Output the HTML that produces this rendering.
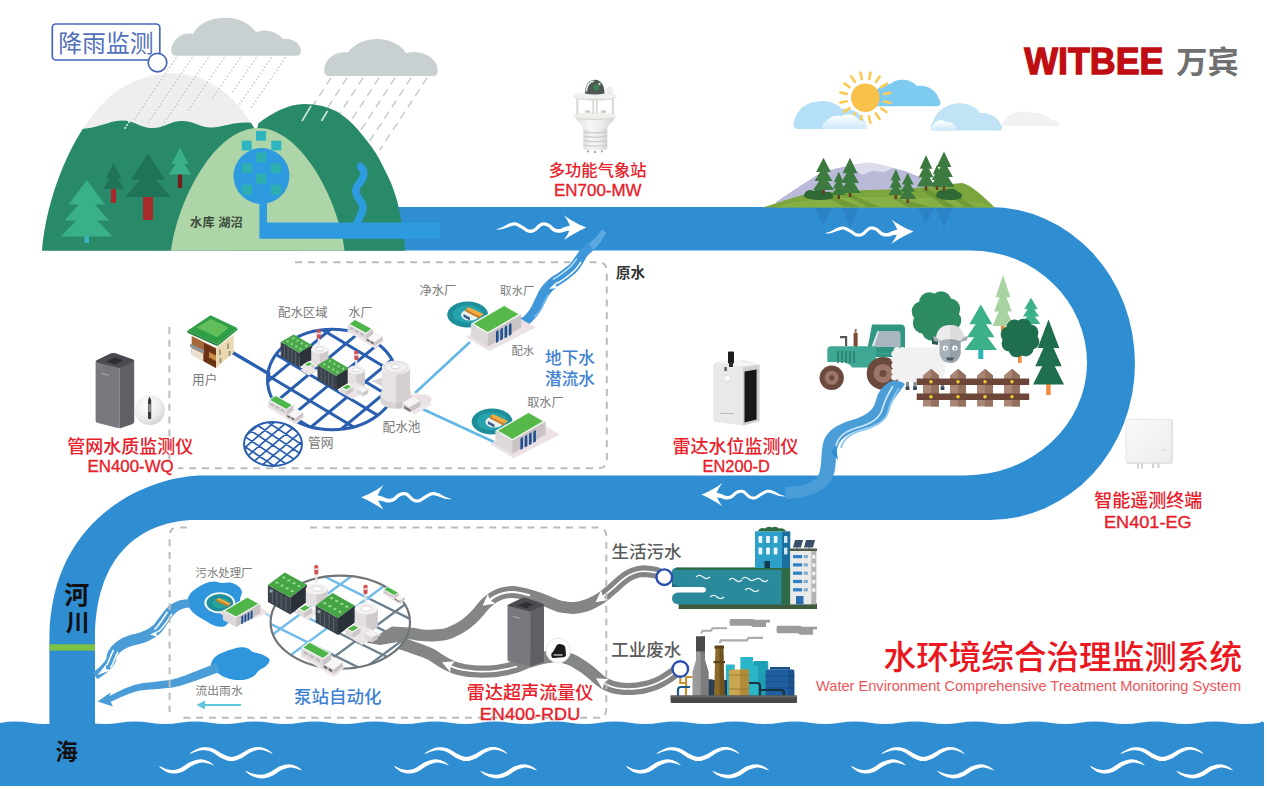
<!DOCTYPE html>
<html><head><meta charset="utf-8"><title>Water Environment Comprehensive Treatment Monitoring System</title>
<style>
html,body{margin:0;padding:0;background:#fff;}
body{width:1267px;height:789px;overflow:hidden;font-family:"Liberation Sans","Noto Sans CJK SC",sans-serif;}
svg{display:block}
text{font-family:"Liberation Sans","Noto Sans CJK SC",sans-serif;}
</style></head><body>
<svg width="1267" height="789" viewBox="0 0 1267 789">
<!-- parts_bg -->
<rect width="1267" height="789" fill="#fff"/>
<path d="M340 207H990A145 156.5 0 0 1 990 520H193C169.5 520.6 95 530.2 95 640V726H49.4V640C49.4 515 150.8 475.5 203 475.5H965A122 113 0 0 0 1087 363A116 112.5 0 0 0 971 250.5H340Z" fill="#2f8dd2"/>
<path d="M0 723Q15 720.2 30 722.7Q45 725.2 60 722.7Q75 720.2 90 722.7Q105 725.2 120 722.7Q135 720.2 150 722.7Q165 725.2 180 722.7Q195 720.2 210 722.7Q225 725.2 240 722.7Q255 720.2 270 722.7Q285 725.2 300 722.7Q315 720.2 330 722.7Q345 725.2 360 722.7Q375 720.2 390 722.7Q405 725.2 420 722.7Q435 720.2 450 722.7Q465 725.2 480 722.7Q495 720.2 510 722.7Q525 725.2 540 722.7Q555 720.2 570 722.7Q585 725.2 600 722.7Q615 720.2 630 722.7Q645 725.2 660 722.7Q675 720.2 690 722.7Q705 725.2 720 722.7Q735 720.2 750 722.7Q765 725.2 780 722.7Q795 720.2 810 722.7Q825 725.2 840 722.7Q855 720.2 870 722.7Q885 725.2 900 722.7Q915 720.2 930 722.7Q945 725.2 960 722.7Q975 720.2 990 722.7Q1005 725.2 1020 722.7Q1035 720.2 1050 722.7Q1065 725.2 1080 722.7Q1095 720.2 1110 722.7Q1125 725.2 1140 722.7Q1155 720.2 1170 722.7Q1185 725.2 1200 722.7Q1215 720.2 1230 722.7Q1245 725.2 1260 722.7Q1262 720.2 1264 722.7V786H0Z" fill="#2f8dd2"/>
<rect x="49.4" y="644.3" width="45.6" height="6.3" fill="#7dc242"/>
<g fill="#fff" transform="translate(0 0)"><path d="M189.0 754.0L189.9 753.8L190.8 753.6L191.7 753.2L192.5 752.9L193.3 752.6L194.2 752.3L195.0 751.9L195.8 751.7L196.6 751.4L197.3 751.2L198.1 751.0L198.9 750.8L199.6 750.6L200.3 750.5L201.0 750.4L201.7 750.3L202.4 750.2L203.1 750.2L203.8 750.1L204.5 750.2L205.2 750.3L206.0 750.4L206.7 750.5L207.5 750.7L208.3 750.8L209.1 751.1L209.9 751.3L210.7 751.6L211.5 751.9L212.3 752.3L213.0 752.7L213.8 753.1L214.6 753.7L215.5 754.2L216.4 754.9L217.3 755.5L218.2 756.1L219.1 756.8L220.1 757.4L221.1 757.9L222.0 758.3L222.9 758.8L223.8 759.2L224.8 759.6L225.8 760.0L226.7 760.3L227.7 760.7L228.8 760.9L229.9 761.1L230.9 761.1L232.0 761.1L233.1 761.0L234.1 760.9L235.1 760.6L236.1 760.3L237.0 760.0L238.0 759.6L238.9 759.3L239.9 758.8L240.9 758.4L241.9 757.9L243.0 757.2L244.0 756.6L245.1 755.9L246.1 755.2L247.1 754.5L248.1 753.8L249.0 753.2L249.9 752.7L250.7 752.2L251.6 751.9L252.4 751.5L253.2 751.2L254.0 750.9L254.8 750.6L255.6 750.4L256.3 750.2L257.1 750.1L257.8 749.9L258.5 749.8L259.3 749.8L260.0 749.8L260.7 749.8L261.4 749.9L262.1 750.0L262.8 750.2L263.5 750.3L264.2 750.5L264.9 750.7L265.6 750.9L266.3 751.2L267.0 751.4L267.7 751.7L268.5 752.1L269.2 752.4L269.9 752.8L270.7 753.1L271.4 753.5L272.2 753.8L273.0 754.0L273.0 754.0L272.4 753.4L271.8 752.8L271.2 752.3L270.5 751.8L269.9 751.3L269.2 750.8L268.5 750.3L267.8 749.9L267.1 749.5L266.4 749.1L265.6 748.7L264.9 748.4L264.2 748.1L263.4 747.9L262.6 747.6L261.8 747.4L261.0 747.2L260.2 747.1L259.3 747.0L258.5 747.0L257.6 747.0L256.7 747.0L255.8 747.1L254.9 747.3L254.0 747.4L253.1 747.7L252.1 747.9L251.2 748.2L250.2 748.6L249.3 749.0L248.2 749.4L247.1 750.0L246.1 750.6L245.0 751.2L243.9 751.9L242.9 752.5L241.9 753.1L240.9 753.7L240.0 754.2L239.1 754.6L238.2 755.0L237.3 755.4L236.5 755.7L235.6 756.0L234.8 756.3L234.0 756.5L233.3 756.7L232.5 756.8L231.8 756.8L231.1 756.9L230.3 756.8L229.6 756.7L228.9 756.5L228.1 756.3L227.2 756.0L226.4 755.7L225.6 755.3L224.7 754.9L223.8 754.5L222.9 754.1L222.1 753.7L221.2 753.3L220.4 752.7L219.5 752.2L218.6 751.6L217.6 751.0L216.7 750.4L215.7 749.9L214.7 749.3L213.7 748.9L212.8 748.6L211.8 748.3L210.9 748.0L209.9 747.8L209.0 747.6L208.1 747.4L207.2 747.3L206.3 747.3L205.4 747.2L204.5 747.2L203.7 747.3L202.8 747.3L202.0 747.5L201.2 747.6L200.4 747.8L199.7 748.1L198.9 748.3L198.2 748.6L197.4 748.9L196.7 749.2L195.9 749.6L195.1 750.0L194.3 750.4L193.5 750.9L192.7 751.3L191.9 751.8L191.2 752.3L190.4 752.8L189.7 753.4L189.0 754.0Z"/><path d="M158.8 766.0L159.3 766.7L159.9 767.3L160.6 767.9L161.2 768.5L161.9 769.1L162.6 769.6L163.3 770.1L164.0 770.6L164.7 771.1L165.5 771.5L166.3 771.9L167.1 772.2L168.0 772.5L168.8 772.7L169.7 773.0L170.5 773.2L171.4 773.3L172.3 773.4L173.2 773.5L174.1 773.5L175.0 773.5L175.8 773.4L176.7 773.3L177.6 773.2L178.5 773.0L179.3 772.8L180.2 772.5L181.1 772.2L182.0 771.9L182.9 771.5L183.9 771.0L184.8 770.5L185.8 769.9L186.7 769.3L187.6 768.6L188.5 768.0L189.4 767.4L190.3 766.8L191.1 766.3L191.9 765.9L192.8 765.5L193.7 765.1L194.6 764.6L195.5 764.3L196.4 763.9L197.4 763.6L198.2 763.3L199.1 763.0L199.9 762.8L200.7 762.7L201.4 762.6L202.1 762.6L202.8 762.6L203.5 762.6L204.2 762.7L204.9 762.8L205.6 762.9L206.3 763.1L207.0 763.2L207.6 763.4L208.3 763.5L208.9 763.7L209.5 763.9L210.0 764.1L210.6 764.3L211.2 764.6L211.8 764.8L212.5 765.0L213.1 765.2L213.8 765.3L213.8 765.3L213.4 764.7L212.9 764.3L212.4 763.9L211.9 763.5L211.4 763.1L210.8 762.7L210.3 762.3L209.7 761.9L209.0 761.6L208.4 761.2L207.7 761.0L207.0 760.7L206.3 760.4L205.6 760.1L204.8 759.9L204.0 759.7L203.1 759.5L202.2 759.4L201.3 759.3L200.3 759.3L199.4 759.4L198.3 759.5L197.3 759.7L196.3 759.9L195.2 760.2L194.2 760.5L193.2 760.9L192.1 761.3L191.1 761.7L190.1 762.1L189.1 762.6L188.0 763.2L187.1 763.8L186.1 764.5L185.2 765.1L184.3 765.7L183.4 766.3L182.6 766.8L181.8 767.3L181.1 767.7L180.3 768.0L179.6 768.4L178.9 768.7L178.1 768.9L177.4 769.2L176.7 769.4L176.0 769.5L175.3 769.7L174.6 769.8L173.9 769.9L173.2 769.9L172.5 769.9L171.7 769.9L171.0 769.9L170.2 769.8L169.5 769.7L168.7 769.6L168.0 769.5L167.2 769.3L166.5 769.1L165.8 768.9L165.0 768.6L164.3 768.3L163.6 768.0L162.8 767.6L162.1 767.2L161.3 766.8L160.5 766.5L159.7 766.2L158.8 766.0Z"/><path d="M245.3 771.0L245.9 771.7L246.6 772.3L247.2 772.8L247.9 773.4L248.6 773.9L249.3 774.4L250.1 774.9L250.9 775.4L251.7 775.8L252.6 776.2L253.5 776.6L254.4 776.9L255.4 777.2L256.4 777.5L257.4 777.8L258.4 778.0L259.4 778.2L260.4 778.3L261.5 778.4L262.5 778.4L263.5 778.3L264.5 778.2L265.4 778.1L266.4 777.9L267.3 777.6L268.3 777.4L269.2 777.0L270.1 776.7L271.0 776.3L271.9 775.9L272.9 775.4L273.9 774.9L274.8 774.3L275.8 773.7L276.7 773.0L277.6 772.4L278.4 771.8L279.3 771.3L280.1 770.8L280.9 770.4L281.7 770.0L282.5 769.6L283.4 769.3L284.2 768.9L285.1 768.7L285.9 768.4L286.7 768.2L287.5 768.0L288.3 767.8L289.0 767.7L289.7 767.6L290.4 767.6L291.0 767.6L291.7 767.6L292.3 767.7L293.0 767.8L293.6 767.9L294.3 768.1L295.0 768.2L295.6 768.4L296.3 768.5L296.9 768.7L297.5 768.9L298.1 769.2L298.7 769.4L299.4 769.6L300.0 769.9L300.7 770.1L301.4 770.3L302.1 770.4L302.1 770.4L301.6 769.8L301.1 769.4L300.6 768.9L300.0 768.5L299.5 768.1L298.9 767.7L298.3 767.3L297.7 766.9L297.0 766.5L296.4 766.2L295.7 765.9L295.1 765.7L294.4 765.4L293.7 765.1L292.9 764.9L292.2 764.7L291.4 764.5L290.5 764.4L289.7 764.3L288.8 764.3L287.9 764.4L286.9 764.5L286.0 764.6L285.0 764.8L284.0 765.0L283.1 765.3L282.1 765.5L281.1 765.9L280.1 766.2L279.1 766.6L278.1 767.1L277.1 767.7L276.1 768.2L275.2 768.9L274.3 769.5L273.4 770.1L272.5 770.7L271.7 771.2L270.9 771.7L270.1 772.1L269.3 772.4L268.5 772.8L267.7 773.1L266.9 773.5L266.1 773.7L265.4 774.0L264.6 774.2L263.8 774.4L263.1 774.5L262.3 774.6L261.5 774.7L260.6 774.7L259.8 774.7L258.8 774.6L257.9 774.5L257.0 774.4L256.1 774.3L255.2 774.1L254.3 774.0L253.4 773.8L252.6 773.6L251.8 773.3L251.0 773.0L250.3 772.7L249.5 772.4L248.7 772.1L247.9 771.7L247.1 771.4L246.2 771.1L245.3 771.0Z"/></g>
<g fill="#fff" transform="translate(235 0)"><path d="M189.0 754.0L189.9 753.8L190.8 753.6L191.7 753.2L192.5 752.9L193.3 752.6L194.2 752.3L195.0 751.9L195.8 751.7L196.6 751.4L197.3 751.2L198.1 751.0L198.9 750.8L199.6 750.6L200.3 750.5L201.0 750.4L201.7 750.3L202.4 750.2L203.1 750.2L203.8 750.1L204.5 750.2L205.2 750.3L206.0 750.4L206.7 750.5L207.5 750.7L208.3 750.8L209.1 751.1L209.9 751.3L210.7 751.6L211.5 751.9L212.3 752.3L213.0 752.7L213.8 753.1L214.6 753.7L215.5 754.2L216.4 754.9L217.3 755.5L218.2 756.1L219.1 756.8L220.1 757.4L221.1 757.9L222.0 758.3L222.9 758.8L223.8 759.2L224.8 759.6L225.8 760.0L226.7 760.3L227.7 760.7L228.8 760.9L229.9 761.1L230.9 761.1L232.0 761.1L233.1 761.0L234.1 760.9L235.1 760.6L236.1 760.3L237.0 760.0L238.0 759.6L238.9 759.3L239.9 758.8L240.9 758.4L241.9 757.9L243.0 757.2L244.0 756.6L245.1 755.9L246.1 755.2L247.1 754.5L248.1 753.8L249.0 753.2L249.9 752.7L250.7 752.2L251.6 751.9L252.4 751.5L253.2 751.2L254.0 750.9L254.8 750.6L255.6 750.4L256.3 750.2L257.1 750.1L257.8 749.9L258.5 749.8L259.3 749.8L260.0 749.8L260.7 749.8L261.4 749.9L262.1 750.0L262.8 750.2L263.5 750.3L264.2 750.5L264.9 750.7L265.6 750.9L266.3 751.2L267.0 751.4L267.7 751.7L268.5 752.1L269.2 752.4L269.9 752.8L270.7 753.1L271.4 753.5L272.2 753.8L273.0 754.0L273.0 754.0L272.4 753.4L271.8 752.8L271.2 752.3L270.5 751.8L269.9 751.3L269.2 750.8L268.5 750.3L267.8 749.9L267.1 749.5L266.4 749.1L265.6 748.7L264.9 748.4L264.2 748.1L263.4 747.9L262.6 747.6L261.8 747.4L261.0 747.2L260.2 747.1L259.3 747.0L258.5 747.0L257.6 747.0L256.7 747.0L255.8 747.1L254.9 747.3L254.0 747.4L253.1 747.7L252.1 747.9L251.2 748.2L250.2 748.6L249.3 749.0L248.2 749.4L247.1 750.0L246.1 750.6L245.0 751.2L243.9 751.9L242.9 752.5L241.9 753.1L240.9 753.7L240.0 754.2L239.1 754.6L238.2 755.0L237.3 755.4L236.5 755.7L235.6 756.0L234.8 756.3L234.0 756.5L233.3 756.7L232.5 756.8L231.8 756.8L231.1 756.9L230.3 756.8L229.6 756.7L228.9 756.5L228.1 756.3L227.2 756.0L226.4 755.7L225.6 755.3L224.7 754.9L223.8 754.5L222.9 754.1L222.1 753.7L221.2 753.3L220.4 752.7L219.5 752.2L218.6 751.6L217.6 751.0L216.7 750.4L215.7 749.9L214.7 749.3L213.7 748.9L212.8 748.6L211.8 748.3L210.9 748.0L209.9 747.8L209.0 747.6L208.1 747.4L207.2 747.3L206.3 747.3L205.4 747.2L204.5 747.2L203.7 747.3L202.8 747.3L202.0 747.5L201.2 747.6L200.4 747.8L199.7 748.1L198.9 748.3L198.2 748.6L197.4 748.9L196.7 749.2L195.9 749.6L195.1 750.0L194.3 750.4L193.5 750.9L192.7 751.3L191.9 751.8L191.2 752.3L190.4 752.8L189.7 753.4L189.0 754.0Z"/><path d="M158.8 766.0L159.3 766.7L159.9 767.3L160.6 767.9L161.2 768.5L161.9 769.1L162.6 769.6L163.3 770.1L164.0 770.6L164.7 771.1L165.5 771.5L166.3 771.9L167.1 772.2L168.0 772.5L168.8 772.7L169.7 773.0L170.5 773.2L171.4 773.3L172.3 773.4L173.2 773.5L174.1 773.5L175.0 773.5L175.8 773.4L176.7 773.3L177.6 773.2L178.5 773.0L179.3 772.8L180.2 772.5L181.1 772.2L182.0 771.9L182.9 771.5L183.9 771.0L184.8 770.5L185.8 769.9L186.7 769.3L187.6 768.6L188.5 768.0L189.4 767.4L190.3 766.8L191.1 766.3L191.9 765.9L192.8 765.5L193.7 765.1L194.6 764.6L195.5 764.3L196.4 763.9L197.4 763.6L198.2 763.3L199.1 763.0L199.9 762.8L200.7 762.7L201.4 762.6L202.1 762.6L202.8 762.6L203.5 762.6L204.2 762.7L204.9 762.8L205.6 762.9L206.3 763.1L207.0 763.2L207.6 763.4L208.3 763.5L208.9 763.7L209.5 763.9L210.0 764.1L210.6 764.3L211.2 764.6L211.8 764.8L212.5 765.0L213.1 765.2L213.8 765.3L213.8 765.3L213.4 764.7L212.9 764.3L212.4 763.9L211.9 763.5L211.4 763.1L210.8 762.7L210.3 762.3L209.7 761.9L209.0 761.6L208.4 761.2L207.7 761.0L207.0 760.7L206.3 760.4L205.6 760.1L204.8 759.9L204.0 759.7L203.1 759.5L202.2 759.4L201.3 759.3L200.3 759.3L199.4 759.4L198.3 759.5L197.3 759.7L196.3 759.9L195.2 760.2L194.2 760.5L193.2 760.9L192.1 761.3L191.1 761.7L190.1 762.1L189.1 762.6L188.0 763.2L187.1 763.8L186.1 764.5L185.2 765.1L184.3 765.7L183.4 766.3L182.6 766.8L181.8 767.3L181.1 767.7L180.3 768.0L179.6 768.4L178.9 768.7L178.1 768.9L177.4 769.2L176.7 769.4L176.0 769.5L175.3 769.7L174.6 769.8L173.9 769.9L173.2 769.9L172.5 769.9L171.7 769.9L171.0 769.9L170.2 769.8L169.5 769.7L168.7 769.6L168.0 769.5L167.2 769.3L166.5 769.1L165.8 768.9L165.0 768.6L164.3 768.3L163.6 768.0L162.8 767.6L162.1 767.2L161.3 766.8L160.5 766.5L159.7 766.2L158.8 766.0Z"/><path d="M245.3 771.0L245.9 771.7L246.6 772.3L247.2 772.8L247.9 773.4L248.6 773.9L249.3 774.4L250.1 774.9L250.9 775.4L251.7 775.8L252.6 776.2L253.5 776.6L254.4 776.9L255.4 777.2L256.4 777.5L257.4 777.8L258.4 778.0L259.4 778.2L260.4 778.3L261.5 778.4L262.5 778.4L263.5 778.3L264.5 778.2L265.4 778.1L266.4 777.9L267.3 777.6L268.3 777.4L269.2 777.0L270.1 776.7L271.0 776.3L271.9 775.9L272.9 775.4L273.9 774.9L274.8 774.3L275.8 773.7L276.7 773.0L277.6 772.4L278.4 771.8L279.3 771.3L280.1 770.8L280.9 770.4L281.7 770.0L282.5 769.6L283.4 769.3L284.2 768.9L285.1 768.7L285.9 768.4L286.7 768.2L287.5 768.0L288.3 767.8L289.0 767.7L289.7 767.6L290.4 767.6L291.0 767.6L291.7 767.6L292.3 767.7L293.0 767.8L293.6 767.9L294.3 768.1L295.0 768.2L295.6 768.4L296.3 768.5L296.9 768.7L297.5 768.9L298.1 769.2L298.7 769.4L299.4 769.6L300.0 769.9L300.7 770.1L301.4 770.3L302.1 770.4L302.1 770.4L301.6 769.8L301.1 769.4L300.6 768.9L300.0 768.5L299.5 768.1L298.9 767.7L298.3 767.3L297.7 766.9L297.0 766.5L296.4 766.2L295.7 765.9L295.1 765.7L294.4 765.4L293.7 765.1L292.9 764.9L292.2 764.7L291.4 764.5L290.5 764.4L289.7 764.3L288.8 764.3L287.9 764.4L286.9 764.5L286.0 764.6L285.0 764.8L284.0 765.0L283.1 765.3L282.1 765.5L281.1 765.9L280.1 766.2L279.1 766.6L278.1 767.1L277.1 767.7L276.1 768.2L275.2 768.9L274.3 769.5L273.4 770.1L272.5 770.7L271.7 771.2L270.9 771.7L270.1 772.1L269.3 772.4L268.5 772.8L267.7 773.1L266.9 773.5L266.1 773.7L265.4 774.0L264.6 774.2L263.8 774.4L263.1 774.5L262.3 774.6L261.5 774.7L260.6 774.7L259.8 774.7L258.8 774.6L257.9 774.5L257.0 774.4L256.1 774.3L255.2 774.1L254.3 774.0L253.4 773.8L252.6 773.6L251.8 773.3L251.0 773.0L250.3 772.7L249.5 772.4L248.7 772.1L247.9 771.7L247.1 771.4L246.2 771.1L245.3 771.0Z"/></g>
<g fill="#fff" transform="translate(467 0)"><path d="M189.0 754.0L189.9 753.8L190.8 753.6L191.7 753.2L192.5 752.9L193.3 752.6L194.2 752.3L195.0 751.9L195.8 751.7L196.6 751.4L197.3 751.2L198.1 751.0L198.9 750.8L199.6 750.6L200.3 750.5L201.0 750.4L201.7 750.3L202.4 750.2L203.1 750.2L203.8 750.1L204.5 750.2L205.2 750.3L206.0 750.4L206.7 750.5L207.5 750.7L208.3 750.8L209.1 751.1L209.9 751.3L210.7 751.6L211.5 751.9L212.3 752.3L213.0 752.7L213.8 753.1L214.6 753.7L215.5 754.2L216.4 754.9L217.3 755.5L218.2 756.1L219.1 756.8L220.1 757.4L221.1 757.9L222.0 758.3L222.9 758.8L223.8 759.2L224.8 759.6L225.8 760.0L226.7 760.3L227.7 760.7L228.8 760.9L229.9 761.1L230.9 761.1L232.0 761.1L233.1 761.0L234.1 760.9L235.1 760.6L236.1 760.3L237.0 760.0L238.0 759.6L238.9 759.3L239.9 758.8L240.9 758.4L241.9 757.9L243.0 757.2L244.0 756.6L245.1 755.9L246.1 755.2L247.1 754.5L248.1 753.8L249.0 753.2L249.9 752.7L250.7 752.2L251.6 751.9L252.4 751.5L253.2 751.2L254.0 750.9L254.8 750.6L255.6 750.4L256.3 750.2L257.1 750.1L257.8 749.9L258.5 749.8L259.3 749.8L260.0 749.8L260.7 749.8L261.4 749.9L262.1 750.0L262.8 750.2L263.5 750.3L264.2 750.5L264.9 750.7L265.6 750.9L266.3 751.2L267.0 751.4L267.7 751.7L268.5 752.1L269.2 752.4L269.9 752.8L270.7 753.1L271.4 753.5L272.2 753.8L273.0 754.0L273.0 754.0L272.4 753.4L271.8 752.8L271.2 752.3L270.5 751.8L269.9 751.3L269.2 750.8L268.5 750.3L267.8 749.9L267.1 749.5L266.4 749.1L265.6 748.7L264.9 748.4L264.2 748.1L263.4 747.9L262.6 747.6L261.8 747.4L261.0 747.2L260.2 747.1L259.3 747.0L258.5 747.0L257.6 747.0L256.7 747.0L255.8 747.1L254.9 747.3L254.0 747.4L253.1 747.7L252.1 747.9L251.2 748.2L250.2 748.6L249.3 749.0L248.2 749.4L247.1 750.0L246.1 750.6L245.0 751.2L243.9 751.9L242.9 752.5L241.9 753.1L240.9 753.7L240.0 754.2L239.1 754.6L238.2 755.0L237.3 755.4L236.5 755.7L235.6 756.0L234.8 756.3L234.0 756.5L233.3 756.7L232.5 756.8L231.8 756.8L231.1 756.9L230.3 756.8L229.6 756.7L228.9 756.5L228.1 756.3L227.2 756.0L226.4 755.7L225.6 755.3L224.7 754.9L223.8 754.5L222.9 754.1L222.1 753.7L221.2 753.3L220.4 752.7L219.5 752.2L218.6 751.6L217.6 751.0L216.7 750.4L215.7 749.9L214.7 749.3L213.7 748.9L212.8 748.6L211.8 748.3L210.9 748.0L209.9 747.8L209.0 747.6L208.1 747.4L207.2 747.3L206.3 747.3L205.4 747.2L204.5 747.2L203.7 747.3L202.8 747.3L202.0 747.5L201.2 747.6L200.4 747.8L199.7 748.1L198.9 748.3L198.2 748.6L197.4 748.9L196.7 749.2L195.9 749.6L195.1 750.0L194.3 750.4L193.5 750.9L192.7 751.3L191.9 751.8L191.2 752.3L190.4 752.8L189.7 753.4L189.0 754.0Z"/><path d="M158.8 766.0L159.3 766.7L159.9 767.3L160.6 767.9L161.2 768.5L161.9 769.1L162.6 769.6L163.3 770.1L164.0 770.6L164.7 771.1L165.5 771.5L166.3 771.9L167.1 772.2L168.0 772.5L168.8 772.7L169.7 773.0L170.5 773.2L171.4 773.3L172.3 773.4L173.2 773.5L174.1 773.5L175.0 773.5L175.8 773.4L176.7 773.3L177.6 773.2L178.5 773.0L179.3 772.8L180.2 772.5L181.1 772.2L182.0 771.9L182.9 771.5L183.9 771.0L184.8 770.5L185.8 769.9L186.7 769.3L187.6 768.6L188.5 768.0L189.4 767.4L190.3 766.8L191.1 766.3L191.9 765.9L192.8 765.5L193.7 765.1L194.6 764.6L195.5 764.3L196.4 763.9L197.4 763.6L198.2 763.3L199.1 763.0L199.9 762.8L200.7 762.7L201.4 762.6L202.1 762.6L202.8 762.6L203.5 762.6L204.2 762.7L204.9 762.8L205.6 762.9L206.3 763.1L207.0 763.2L207.6 763.4L208.3 763.5L208.9 763.7L209.5 763.9L210.0 764.1L210.6 764.3L211.2 764.6L211.8 764.8L212.5 765.0L213.1 765.2L213.8 765.3L213.8 765.3L213.4 764.7L212.9 764.3L212.4 763.9L211.9 763.5L211.4 763.1L210.8 762.7L210.3 762.3L209.7 761.9L209.0 761.6L208.4 761.2L207.7 761.0L207.0 760.7L206.3 760.4L205.6 760.1L204.8 759.9L204.0 759.7L203.1 759.5L202.2 759.4L201.3 759.3L200.3 759.3L199.4 759.4L198.3 759.5L197.3 759.7L196.3 759.9L195.2 760.2L194.2 760.5L193.2 760.9L192.1 761.3L191.1 761.7L190.1 762.1L189.1 762.6L188.0 763.2L187.1 763.8L186.1 764.5L185.2 765.1L184.3 765.7L183.4 766.3L182.6 766.8L181.8 767.3L181.1 767.7L180.3 768.0L179.6 768.4L178.9 768.7L178.1 768.9L177.4 769.2L176.7 769.4L176.0 769.5L175.3 769.7L174.6 769.8L173.9 769.9L173.2 769.9L172.5 769.9L171.7 769.9L171.0 769.9L170.2 769.8L169.5 769.7L168.7 769.6L168.0 769.5L167.2 769.3L166.5 769.1L165.8 768.9L165.0 768.6L164.3 768.3L163.6 768.0L162.8 767.6L162.1 767.2L161.3 766.8L160.5 766.5L159.7 766.2L158.8 766.0Z"/><path d="M245.3 771.0L245.9 771.7L246.6 772.3L247.2 772.8L247.9 773.4L248.6 773.9L249.3 774.4L250.1 774.9L250.9 775.4L251.7 775.8L252.6 776.2L253.5 776.6L254.4 776.9L255.4 777.2L256.4 777.5L257.4 777.8L258.4 778.0L259.4 778.2L260.4 778.3L261.5 778.4L262.5 778.4L263.5 778.3L264.5 778.2L265.4 778.1L266.4 777.9L267.3 777.6L268.3 777.4L269.2 777.0L270.1 776.7L271.0 776.3L271.9 775.9L272.9 775.4L273.9 774.9L274.8 774.3L275.8 773.7L276.7 773.0L277.6 772.4L278.4 771.8L279.3 771.3L280.1 770.8L280.9 770.4L281.7 770.0L282.5 769.6L283.4 769.3L284.2 768.9L285.1 768.7L285.9 768.4L286.7 768.2L287.5 768.0L288.3 767.8L289.0 767.7L289.7 767.6L290.4 767.6L291.0 767.6L291.7 767.6L292.3 767.7L293.0 767.8L293.6 767.9L294.3 768.1L295.0 768.2L295.6 768.4L296.3 768.5L296.9 768.7L297.5 768.9L298.1 769.2L298.7 769.4L299.4 769.6L300.0 769.9L300.7 770.1L301.4 770.3L302.1 770.4L302.1 770.4L301.6 769.8L301.1 769.4L300.6 768.9L300.0 768.5L299.5 768.1L298.9 767.7L298.3 767.3L297.7 766.9L297.0 766.5L296.4 766.2L295.7 765.9L295.1 765.7L294.4 765.4L293.7 765.1L292.9 764.9L292.2 764.7L291.4 764.5L290.5 764.4L289.7 764.3L288.8 764.3L287.9 764.4L286.9 764.5L286.0 764.6L285.0 764.8L284.0 765.0L283.1 765.3L282.1 765.5L281.1 765.9L280.1 766.2L279.1 766.6L278.1 767.1L277.1 767.7L276.1 768.2L275.2 768.9L274.3 769.5L273.4 770.1L272.5 770.7L271.7 771.2L270.9 771.7L270.1 772.1L269.3 772.4L268.5 772.8L267.7 773.1L266.9 773.5L266.1 773.7L265.4 774.0L264.6 774.2L263.8 774.4L263.1 774.5L262.3 774.6L261.5 774.7L260.6 774.7L259.8 774.7L258.8 774.6L257.9 774.5L257.0 774.4L256.1 774.3L255.2 774.1L254.3 774.0L253.4 773.8L252.6 773.6L251.8 773.3L251.0 773.0L250.3 772.7L249.5 772.4L248.7 772.1L247.9 771.7L247.1 771.4L246.2 771.1L245.3 771.0Z"/></g>
<g fill="#fff" transform="translate(692 0)"><path d="M189.0 754.0L189.9 753.8L190.8 753.6L191.7 753.2L192.5 752.9L193.3 752.6L194.2 752.3L195.0 751.9L195.8 751.7L196.6 751.4L197.3 751.2L198.1 751.0L198.9 750.8L199.6 750.6L200.3 750.5L201.0 750.4L201.7 750.3L202.4 750.2L203.1 750.2L203.8 750.1L204.5 750.2L205.2 750.3L206.0 750.4L206.7 750.5L207.5 750.7L208.3 750.8L209.1 751.1L209.9 751.3L210.7 751.6L211.5 751.9L212.3 752.3L213.0 752.7L213.8 753.1L214.6 753.7L215.5 754.2L216.4 754.9L217.3 755.5L218.2 756.1L219.1 756.8L220.1 757.4L221.1 757.9L222.0 758.3L222.9 758.8L223.8 759.2L224.8 759.6L225.8 760.0L226.7 760.3L227.7 760.7L228.8 760.9L229.9 761.1L230.9 761.1L232.0 761.1L233.1 761.0L234.1 760.9L235.1 760.6L236.1 760.3L237.0 760.0L238.0 759.6L238.9 759.3L239.9 758.8L240.9 758.4L241.9 757.9L243.0 757.2L244.0 756.6L245.1 755.9L246.1 755.2L247.1 754.5L248.1 753.8L249.0 753.2L249.9 752.7L250.7 752.2L251.6 751.9L252.4 751.5L253.2 751.2L254.0 750.9L254.8 750.6L255.6 750.4L256.3 750.2L257.1 750.1L257.8 749.9L258.5 749.8L259.3 749.8L260.0 749.8L260.7 749.8L261.4 749.9L262.1 750.0L262.8 750.2L263.5 750.3L264.2 750.5L264.9 750.7L265.6 750.9L266.3 751.2L267.0 751.4L267.7 751.7L268.5 752.1L269.2 752.4L269.9 752.8L270.7 753.1L271.4 753.5L272.2 753.8L273.0 754.0L273.0 754.0L272.4 753.4L271.8 752.8L271.2 752.3L270.5 751.8L269.9 751.3L269.2 750.8L268.5 750.3L267.8 749.9L267.1 749.5L266.4 749.1L265.6 748.7L264.9 748.4L264.2 748.1L263.4 747.9L262.6 747.6L261.8 747.4L261.0 747.2L260.2 747.1L259.3 747.0L258.5 747.0L257.6 747.0L256.7 747.0L255.8 747.1L254.9 747.3L254.0 747.4L253.1 747.7L252.1 747.9L251.2 748.2L250.2 748.6L249.3 749.0L248.2 749.4L247.1 750.0L246.1 750.6L245.0 751.2L243.9 751.9L242.9 752.5L241.9 753.1L240.9 753.7L240.0 754.2L239.1 754.6L238.2 755.0L237.3 755.4L236.5 755.7L235.6 756.0L234.8 756.3L234.0 756.5L233.3 756.7L232.5 756.8L231.8 756.8L231.1 756.9L230.3 756.8L229.6 756.7L228.9 756.5L228.1 756.3L227.2 756.0L226.4 755.7L225.6 755.3L224.7 754.9L223.8 754.5L222.9 754.1L222.1 753.7L221.2 753.3L220.4 752.7L219.5 752.2L218.6 751.6L217.6 751.0L216.7 750.4L215.7 749.9L214.7 749.3L213.7 748.9L212.8 748.6L211.8 748.3L210.9 748.0L209.9 747.8L209.0 747.6L208.1 747.4L207.2 747.3L206.3 747.3L205.4 747.2L204.5 747.2L203.7 747.3L202.8 747.3L202.0 747.5L201.2 747.6L200.4 747.8L199.7 748.1L198.9 748.3L198.2 748.6L197.4 748.9L196.7 749.2L195.9 749.6L195.1 750.0L194.3 750.4L193.5 750.9L192.7 751.3L191.9 751.8L191.2 752.3L190.4 752.8L189.7 753.4L189.0 754.0Z"/><path d="M158.8 766.0L159.3 766.7L159.9 767.3L160.6 767.9L161.2 768.5L161.9 769.1L162.6 769.6L163.3 770.1L164.0 770.6L164.7 771.1L165.5 771.5L166.3 771.9L167.1 772.2L168.0 772.5L168.8 772.7L169.7 773.0L170.5 773.2L171.4 773.3L172.3 773.4L173.2 773.5L174.1 773.5L175.0 773.5L175.8 773.4L176.7 773.3L177.6 773.2L178.5 773.0L179.3 772.8L180.2 772.5L181.1 772.2L182.0 771.9L182.9 771.5L183.9 771.0L184.8 770.5L185.8 769.9L186.7 769.3L187.6 768.6L188.5 768.0L189.4 767.4L190.3 766.8L191.1 766.3L191.9 765.9L192.8 765.5L193.7 765.1L194.6 764.6L195.5 764.3L196.4 763.9L197.4 763.6L198.2 763.3L199.1 763.0L199.9 762.8L200.7 762.7L201.4 762.6L202.1 762.6L202.8 762.6L203.5 762.6L204.2 762.7L204.9 762.8L205.6 762.9L206.3 763.1L207.0 763.2L207.6 763.4L208.3 763.5L208.9 763.7L209.5 763.9L210.0 764.1L210.6 764.3L211.2 764.6L211.8 764.8L212.5 765.0L213.1 765.2L213.8 765.3L213.8 765.3L213.4 764.7L212.9 764.3L212.4 763.9L211.9 763.5L211.4 763.1L210.8 762.7L210.3 762.3L209.7 761.9L209.0 761.6L208.4 761.2L207.7 761.0L207.0 760.7L206.3 760.4L205.6 760.1L204.8 759.9L204.0 759.7L203.1 759.5L202.2 759.4L201.3 759.3L200.3 759.3L199.4 759.4L198.3 759.5L197.3 759.7L196.3 759.9L195.2 760.2L194.2 760.5L193.2 760.9L192.1 761.3L191.1 761.7L190.1 762.1L189.1 762.6L188.0 763.2L187.1 763.8L186.1 764.5L185.2 765.1L184.3 765.7L183.4 766.3L182.6 766.8L181.8 767.3L181.1 767.7L180.3 768.0L179.6 768.4L178.9 768.7L178.1 768.9L177.4 769.2L176.7 769.4L176.0 769.5L175.3 769.7L174.6 769.8L173.9 769.9L173.2 769.9L172.5 769.9L171.7 769.9L171.0 769.9L170.2 769.8L169.5 769.7L168.7 769.6L168.0 769.5L167.2 769.3L166.5 769.1L165.8 768.9L165.0 768.6L164.3 768.3L163.6 768.0L162.8 767.6L162.1 767.2L161.3 766.8L160.5 766.5L159.7 766.2L158.8 766.0Z"/><path d="M245.3 771.0L245.9 771.7L246.6 772.3L247.2 772.8L247.9 773.4L248.6 773.9L249.3 774.4L250.1 774.9L250.9 775.4L251.7 775.8L252.6 776.2L253.5 776.6L254.4 776.9L255.4 777.2L256.4 777.5L257.4 777.8L258.4 778.0L259.4 778.2L260.4 778.3L261.5 778.4L262.5 778.4L263.5 778.3L264.5 778.2L265.4 778.1L266.4 777.9L267.3 777.6L268.3 777.4L269.2 777.0L270.1 776.7L271.0 776.3L271.9 775.9L272.9 775.4L273.9 774.9L274.8 774.3L275.8 773.7L276.7 773.0L277.6 772.4L278.4 771.8L279.3 771.3L280.1 770.8L280.9 770.4L281.7 770.0L282.5 769.6L283.4 769.3L284.2 768.9L285.1 768.7L285.9 768.4L286.7 768.2L287.5 768.0L288.3 767.8L289.0 767.7L289.7 767.6L290.4 767.6L291.0 767.6L291.7 767.6L292.3 767.7L293.0 767.8L293.6 767.9L294.3 768.1L295.0 768.2L295.6 768.4L296.3 768.5L296.9 768.7L297.5 768.9L298.1 769.2L298.7 769.4L299.4 769.6L300.0 769.9L300.7 770.1L301.4 770.3L302.1 770.4L302.1 770.4L301.6 769.8L301.1 769.4L300.6 768.9L300.0 768.5L299.5 768.1L298.9 767.7L298.3 767.3L297.7 766.9L297.0 766.5L296.4 766.2L295.7 765.9L295.1 765.7L294.4 765.4L293.7 765.1L292.9 764.9L292.2 764.7L291.4 764.5L290.5 764.4L289.7 764.3L288.8 764.3L287.9 764.4L286.9 764.5L286.0 764.6L285.0 764.8L284.0 765.0L283.1 765.3L282.1 765.5L281.1 765.9L280.1 766.2L279.1 766.6L278.1 767.1L277.1 767.7L276.1 768.2L275.2 768.9L274.3 769.5L273.4 770.1L272.5 770.7L271.7 771.2L270.9 771.7L270.1 772.1L269.3 772.4L268.5 772.8L267.7 773.1L266.9 773.5L266.1 773.7L265.4 774.0L264.6 774.2L263.8 774.4L263.1 774.5L262.3 774.6L261.5 774.7L260.6 774.7L259.8 774.7L258.8 774.6L257.9 774.5L257.0 774.4L256.1 774.3L255.2 774.1L254.3 774.0L253.4 773.8L252.6 773.6L251.8 773.3L251.0 773.0L250.3 772.7L249.5 772.4L248.7 772.1L247.9 771.7L247.1 771.4L246.2 771.1L245.3 771.0Z"/></g>
<g fill="#fff" transform="translate(931 0)"><path d="M189.0 754.0L189.9 753.8L190.8 753.6L191.7 753.2L192.5 752.9L193.3 752.6L194.2 752.3L195.0 751.9L195.8 751.7L196.6 751.4L197.3 751.2L198.1 751.0L198.9 750.8L199.6 750.6L200.3 750.5L201.0 750.4L201.7 750.3L202.4 750.2L203.1 750.2L203.8 750.1L204.5 750.2L205.2 750.3L206.0 750.4L206.7 750.5L207.5 750.7L208.3 750.8L209.1 751.1L209.9 751.3L210.7 751.6L211.5 751.9L212.3 752.3L213.0 752.7L213.8 753.1L214.6 753.7L215.5 754.2L216.4 754.9L217.3 755.5L218.2 756.1L219.1 756.8L220.1 757.4L221.1 757.9L222.0 758.3L222.9 758.8L223.8 759.2L224.8 759.6L225.8 760.0L226.7 760.3L227.7 760.7L228.8 760.9L229.9 761.1L230.9 761.1L232.0 761.1L233.1 761.0L234.1 760.9L235.1 760.6L236.1 760.3L237.0 760.0L238.0 759.6L238.9 759.3L239.9 758.8L240.9 758.4L241.9 757.9L243.0 757.2L244.0 756.6L245.1 755.9L246.1 755.2L247.1 754.5L248.1 753.8L249.0 753.2L249.9 752.7L250.7 752.2L251.6 751.9L252.4 751.5L253.2 751.2L254.0 750.9L254.8 750.6L255.6 750.4L256.3 750.2L257.1 750.1L257.8 749.9L258.5 749.8L259.3 749.8L260.0 749.8L260.7 749.8L261.4 749.9L262.1 750.0L262.8 750.2L263.5 750.3L264.2 750.5L264.9 750.7L265.6 750.9L266.3 751.2L267.0 751.4L267.7 751.7L268.5 752.1L269.2 752.4L269.9 752.8L270.7 753.1L271.4 753.5L272.2 753.8L273.0 754.0L273.0 754.0L272.4 753.4L271.8 752.8L271.2 752.3L270.5 751.8L269.9 751.3L269.2 750.8L268.5 750.3L267.8 749.9L267.1 749.5L266.4 749.1L265.6 748.7L264.9 748.4L264.2 748.1L263.4 747.9L262.6 747.6L261.8 747.4L261.0 747.2L260.2 747.1L259.3 747.0L258.5 747.0L257.6 747.0L256.7 747.0L255.8 747.1L254.9 747.3L254.0 747.4L253.1 747.7L252.1 747.9L251.2 748.2L250.2 748.6L249.3 749.0L248.2 749.4L247.1 750.0L246.1 750.6L245.0 751.2L243.9 751.9L242.9 752.5L241.9 753.1L240.9 753.7L240.0 754.2L239.1 754.6L238.2 755.0L237.3 755.4L236.5 755.7L235.6 756.0L234.8 756.3L234.0 756.5L233.3 756.7L232.5 756.8L231.8 756.8L231.1 756.9L230.3 756.8L229.6 756.7L228.9 756.5L228.1 756.3L227.2 756.0L226.4 755.7L225.6 755.3L224.7 754.9L223.8 754.5L222.9 754.1L222.1 753.7L221.2 753.3L220.4 752.7L219.5 752.2L218.6 751.6L217.6 751.0L216.7 750.4L215.7 749.9L214.7 749.3L213.7 748.9L212.8 748.6L211.8 748.3L210.9 748.0L209.9 747.8L209.0 747.6L208.1 747.4L207.2 747.3L206.3 747.3L205.4 747.2L204.5 747.2L203.7 747.3L202.8 747.3L202.0 747.5L201.2 747.6L200.4 747.8L199.7 748.1L198.9 748.3L198.2 748.6L197.4 748.9L196.7 749.2L195.9 749.6L195.1 750.0L194.3 750.4L193.5 750.9L192.7 751.3L191.9 751.8L191.2 752.3L190.4 752.8L189.7 753.4L189.0 754.0Z"/><path d="M158.8 766.0L159.3 766.7L159.9 767.3L160.6 767.9L161.2 768.5L161.9 769.1L162.6 769.6L163.3 770.1L164.0 770.6L164.7 771.1L165.5 771.5L166.3 771.9L167.1 772.2L168.0 772.5L168.8 772.7L169.7 773.0L170.5 773.2L171.4 773.3L172.3 773.4L173.2 773.5L174.1 773.5L175.0 773.5L175.8 773.4L176.7 773.3L177.6 773.2L178.5 773.0L179.3 772.8L180.2 772.5L181.1 772.2L182.0 771.9L182.9 771.5L183.9 771.0L184.8 770.5L185.8 769.9L186.7 769.3L187.6 768.6L188.5 768.0L189.4 767.4L190.3 766.8L191.1 766.3L191.9 765.9L192.8 765.5L193.7 765.1L194.6 764.6L195.5 764.3L196.4 763.9L197.4 763.6L198.2 763.3L199.1 763.0L199.9 762.8L200.7 762.7L201.4 762.6L202.1 762.6L202.8 762.6L203.5 762.6L204.2 762.7L204.9 762.8L205.6 762.9L206.3 763.1L207.0 763.2L207.6 763.4L208.3 763.5L208.9 763.7L209.5 763.9L210.0 764.1L210.6 764.3L211.2 764.6L211.8 764.8L212.5 765.0L213.1 765.2L213.8 765.3L213.8 765.3L213.4 764.7L212.9 764.3L212.4 763.9L211.9 763.5L211.4 763.1L210.8 762.7L210.3 762.3L209.7 761.9L209.0 761.6L208.4 761.2L207.7 761.0L207.0 760.7L206.3 760.4L205.6 760.1L204.8 759.9L204.0 759.7L203.1 759.5L202.2 759.4L201.3 759.3L200.3 759.3L199.4 759.4L198.3 759.5L197.3 759.7L196.3 759.9L195.2 760.2L194.2 760.5L193.2 760.9L192.1 761.3L191.1 761.7L190.1 762.1L189.1 762.6L188.0 763.2L187.1 763.8L186.1 764.5L185.2 765.1L184.3 765.7L183.4 766.3L182.6 766.8L181.8 767.3L181.1 767.7L180.3 768.0L179.6 768.4L178.9 768.7L178.1 768.9L177.4 769.2L176.7 769.4L176.0 769.5L175.3 769.7L174.6 769.8L173.9 769.9L173.2 769.9L172.5 769.9L171.7 769.9L171.0 769.9L170.2 769.8L169.5 769.7L168.7 769.6L168.0 769.5L167.2 769.3L166.5 769.1L165.8 768.9L165.0 768.6L164.3 768.3L163.6 768.0L162.8 767.6L162.1 767.2L161.3 766.8L160.5 766.5L159.7 766.2L158.8 766.0Z"/><path d="M245.3 771.0L245.9 771.7L246.6 772.3L247.2 772.8L247.9 773.4L248.6 773.9L249.3 774.4L250.1 774.9L250.9 775.4L251.7 775.8L252.6 776.2L253.5 776.6L254.4 776.9L255.4 777.2L256.4 777.5L257.4 777.8L258.4 778.0L259.4 778.2L260.4 778.3L261.5 778.4L262.5 778.4L263.5 778.3L264.5 778.2L265.4 778.1L266.4 777.9L267.3 777.6L268.3 777.4L269.2 777.0L270.1 776.7L271.0 776.3L271.9 775.9L272.9 775.4L273.9 774.9L274.8 774.3L275.8 773.7L276.7 773.0L277.6 772.4L278.4 771.8L279.3 771.3L280.1 770.8L280.9 770.4L281.7 770.0L282.5 769.6L283.4 769.3L284.2 768.9L285.1 768.7L285.9 768.4L286.7 768.2L287.5 768.0L288.3 767.8L289.0 767.7L289.7 767.6L290.4 767.6L291.0 767.6L291.7 767.6L292.3 767.7L293.0 767.8L293.6 767.9L294.3 768.1L295.0 768.2L295.6 768.4L296.3 768.5L296.9 768.7L297.5 768.9L298.1 769.2L298.7 769.4L299.4 769.6L300.0 769.9L300.7 770.1L301.4 770.3L302.1 770.4L302.1 770.4L301.6 769.8L301.1 769.4L300.6 768.9L300.0 768.5L299.5 768.1L298.9 767.7L298.3 767.3L297.7 766.9L297.0 766.5L296.4 766.2L295.7 765.9L295.1 765.7L294.4 765.4L293.7 765.1L292.9 764.9L292.2 764.7L291.4 764.5L290.5 764.4L289.7 764.3L288.8 764.3L287.9 764.4L286.9 764.5L286.0 764.6L285.0 764.8L284.0 765.0L283.1 765.3L282.1 765.5L281.1 765.9L280.1 766.2L279.1 766.6L278.1 767.1L277.1 767.7L276.1 768.2L275.2 768.9L274.3 769.5L273.4 770.1L272.5 770.7L271.7 771.2L270.9 771.7L270.1 772.1L269.3 772.4L268.5 772.8L267.7 773.1L266.9 773.5L266.1 773.7L265.4 774.0L264.6 774.2L263.8 774.4L263.1 774.5L262.3 774.6L261.5 774.7L260.6 774.7L259.8 774.7L258.8 774.6L257.9 774.5L257.0 774.4L256.1 774.3L255.2 774.1L254.3 774.0L253.4 773.8L252.6 773.6L251.8 773.3L251.0 773.0L250.3 772.7L249.5 772.4L248.7 772.1L247.9 771.7L247.1 771.4L246.2 771.1L245.3 771.0Z"/></g>
<path d="M574.2 224.8L573.8 224.9L573.4 225.0L573.1 225.1L572.7 225.1L572.3 225.2L571.9 225.3L571.5 225.4L571.0 225.4L570.5 225.5L570.1 225.6L569.6 225.8L569.1 225.9L568.6 226.0L568.1 226.1L567.6 226.2L567.0 226.4L566.5 226.5L565.9 226.7L565.4 226.8L564.8 227.0L564.2 227.2L563.6 227.5L563.1 227.7L562.6 228.0L562.2 228.2L561.7 228.4L561.3 228.6L561.0 228.7L560.6 228.8L560.2 228.9L559.7 228.9L559.2 229.0L558.7 229.0L558.2 229.0L557.7 229.0L557.2 228.9L556.7 228.9L556.2 228.8L555.6 228.6L555.2 228.4L554.7 228.2L554.2 227.8L553.6 227.4L553.0 226.8L552.3 226.2L551.7 225.6L550.9 225.0L550.2 224.4L549.4 223.9L548.6 223.5L547.9 223.2L547.1 222.9L546.4 222.7L545.7 222.5L544.9 222.4L544.1 222.3L543.3 222.3L542.5 222.4L541.6 222.6L540.8 222.9L539.9 223.4L539.0 223.9L538.2 224.6L537.5 225.3L536.7 226.1L536.0 226.8L535.3 227.5L534.7 228.0L534.1 228.5L533.6 228.8L533.1 229.0L532.6 229.3L532.1 229.4L531.6 229.5L531.2 229.6L530.7 229.7L530.3 229.7L529.8 229.6L529.3 229.6L528.8 229.5L528.3 229.3L527.9 229.1L527.3 228.8L526.7 228.4L526.1 228.0L525.4 227.5L524.8 227.1L524.1 226.6L523.4 226.1L522.7 225.7L522.0 225.4L521.4 225.0L520.7 224.6L520.1 224.2L519.4 223.8L518.7 223.5L517.9 223.1L517.2 222.8L516.4 222.6L515.7 222.4L514.9 222.3L514.1 222.3L513.4 222.4L512.7 222.5L512.1 222.6L511.4 222.8L510.8 223.0L510.2 223.2L509.5 223.4L508.9 223.6L508.2 223.9L507.5 224.3L506.8 224.7L506.1 225.0L505.4 225.5L504.7 225.9L504.0 226.2L503.3 226.6L502.7 226.9L502.1 227.2L501.5 227.5L500.9 227.7L500.4 227.9L499.8 228.1L499.2 228.3L498.7 228.4L498.1 228.6L497.5 228.8L496.9 229.0L496.4 229.3L496.4 229.5L497.0 229.5L497.6 229.5L498.2 229.5L498.8 229.5L499.4 229.4L500.1 229.4L500.7 229.3L501.3 229.2L502.0 229.1L502.7 229.0L503.4 228.8L504.2 228.5L504.9 228.3L505.7 228.0L506.4 227.7L507.2 227.4L507.9 227.2L508.6 226.9L509.3 226.7L509.9 226.6L510.5 226.4L511.1 226.2L511.7 226.0L512.3 225.9L512.8 225.7L513.3 225.6L513.8 225.5L514.2 225.5L514.7 225.5L515.1 225.6L515.6 225.7L516.1 225.8L516.7 226.1L517.3 226.3L517.9 226.6L518.5 227.0L519.1 227.4L519.8 227.7L520.5 228.1L521.1 228.5L521.7 228.8L522.3 229.2L522.9 229.7L523.6 230.1L524.3 230.6L525.0 231.1L525.7 231.5L526.4 231.9L527.2 232.3L528.0 232.5L528.7 232.7L529.4 232.8L530.2 232.9L530.9 232.9L531.6 232.8L532.3 232.7L533.0 232.5L533.7 232.3L534.4 232.0L535.2 231.6L536.0 231.1L536.8 230.5L537.5 229.8L538.3 229.1L539.0 228.4L539.7 227.7L540.4 227.0L541.0 226.5L541.6 226.1L542.0 225.9L542.5 225.8L543.0 225.7L543.5 225.6L544.0 225.6L544.5 225.7L545.0 225.7L545.5 225.9L546.1 226.1L546.6 226.3L547.2 226.5L547.7 226.8L548.2 227.1L548.8 227.6L549.4 228.1L550.0 228.7L550.7 229.4L551.4 230.0L552.1 230.6L552.8 231.1L553.6 231.6L554.4 231.9L555.1 232.2L555.9 232.4L556.6 232.5L557.3 232.6L558.0 232.7L558.7 232.7L559.3 232.7L560.0 232.7L560.6 232.7L561.3 232.6L562.0 232.5L562.6 232.3L563.2 232.1L563.8 231.9L564.3 231.7L564.7 231.5L565.2 231.4L565.6 231.3L566.0 231.2L566.4 231.1L566.9 231.0L567.4 231.0L567.9 230.9L568.4 230.9L568.8 230.8L569.3 230.8L569.8 230.8L570.3 230.8L570.7 230.8L571.1 230.7L571.5 230.8L571.9 230.8L572.3 230.8L572.6 230.8L573.0 230.9L573.4 230.9L573.8 230.9L574.2 230.9L574.6 231.0Z" fill="#fff"/><path d="M586.4 227.6C578.4 224.6 569.4 219.6 563.9 215.1C566.9 219.6 569.9 224.1 570.4 228.1C569.4 232.1 566.4 236.6 563.9 240.1C570.4 235.6 578.4 231.1 586.4 227.6Z" fill="#fff"/>
<path d="M901.5 228.9L901.2 229.0L900.8 229.0L900.4 229.1L900.1 229.2L899.7 229.3L899.3 229.3L898.9 229.4L898.4 229.5L898.0 229.6L897.5 229.7L897.0 229.8L896.6 229.9L896.1 230.0L895.6 230.1L895.0 230.3L894.5 230.4L894.0 230.5L893.5 230.7L892.9 230.9L892.4 231.0L891.8 231.2L891.2 231.5L890.7 231.7L890.2 232.0L889.7 232.2L889.3 232.4L888.9 232.6L888.6 232.7L888.2 232.8L887.8 232.9L887.4 232.9L886.9 233.0L886.4 233.0L885.8 233.0L885.3 233.0L884.8 232.9L884.4 232.8L883.9 232.7L883.4 232.6L882.9 232.4L882.4 232.2L881.9 231.8L881.4 231.4L880.8 230.8L880.1 230.3L879.4 229.7L878.8 229.1L878.0 228.5L877.3 228.0L876.5 227.6L875.7 227.3L875.0 227.0L874.3 226.8L873.6 226.6L872.8 226.5L872.1 226.4L871.3 226.4L870.5 226.5L869.6 226.7L868.8 227.0L867.9 227.4L867.1 228.0L866.3 228.7L865.5 229.4L864.8 230.1L864.1 230.8L863.5 231.5L862.8 232.0L862.3 232.5L861.8 232.8L861.3 233.0L860.8 233.2L860.3 233.4L859.8 233.5L859.4 233.6L858.9 233.6L858.5 233.6L858.0 233.6L857.5 233.5L857.1 233.4L856.6 233.3L856.1 233.1L855.6 232.8L855.0 232.4L854.4 232.0L853.8 231.5L853.1 231.1L852.4 230.6L851.7 230.2L851.1 229.8L850.4 229.4L849.8 229.0L849.1 228.7L848.5 228.3L847.8 227.9L847.1 227.6L846.4 227.2L845.7 226.9L844.9 226.7L844.2 226.5L843.4 226.4L842.7 226.4L842.0 226.5L841.3 226.6L840.7 226.7L840.0 226.9L839.4 227.1L838.8 227.3L838.2 227.5L837.6 227.7L836.9 228.0L836.2 228.3L835.5 228.7L834.8 229.1L834.1 229.5L833.4 229.9L832.7 230.3L832.1 230.6L831.5 231.0L830.9 231.2L830.3 231.5L829.7 231.7L829.2 231.9L828.6 232.1L828.1 232.3L827.5 232.4L827.0 232.6L826.4 232.8L825.8 233.0L825.3 233.3L825.3 233.5L825.9 233.5L826.5 233.5L827.1 233.5L827.7 233.4L828.3 233.4L828.9 233.4L829.5 233.3L830.1 233.2L830.8 233.1L831.5 232.9L832.2 232.8L832.9 232.5L833.7 232.3L834.4 232.0L835.1 231.7L835.9 231.4L836.6 231.2L837.3 231.0L837.9 230.8L838.5 230.6L839.1 230.4L839.8 230.2L840.3 230.0L840.9 229.9L841.4 229.8L841.9 229.7L842.3 229.6L842.8 229.6L843.2 229.6L843.7 229.6L844.1 229.7L844.6 229.9L845.2 230.1L845.7 230.4L846.3 230.7L847.0 231.0L847.6 231.4L848.2 231.7L848.9 232.1L849.5 232.5L850.1 232.8L850.7 233.2L851.3 233.6L852.0 234.1L852.6 234.5L853.3 235.0L854.0 235.4L854.7 235.8L855.5 236.2L856.3 236.4L857.0 236.6L857.7 236.7L858.4 236.8L859.1 236.8L859.8 236.7L860.5 236.6L861.2 236.4L861.9 236.2L862.5 235.9L863.3 235.5L864.1 235.0L864.9 234.4L865.6 233.8L866.3 233.0L867.1 232.3L867.7 231.7L868.4 231.0L869.0 230.5L869.5 230.2L870.0 229.9L870.5 229.8L871.0 229.7L871.4 229.6L871.9 229.6L872.4 229.7L872.9 229.8L873.4 229.9L874.0 230.1L874.5 230.3L875.1 230.5L875.6 230.8L876.1 231.1L876.6 231.6L877.2 232.1L877.9 232.7L878.5 233.3L879.2 233.9L879.9 234.5L880.6 235.1L881.4 235.5L882.1 235.8L882.9 236.1L883.6 236.3L884.3 236.4L885.0 236.5L885.7 236.6L886.3 236.6L887.0 236.6L887.6 236.6L888.2 236.6L888.9 236.5L889.6 236.4L890.2 236.2L890.8 236.0L891.3 235.8L891.8 235.6L892.3 235.5L892.7 235.3L893.1 235.2L893.5 235.1L893.9 235.0L894.4 235.0L894.9 234.9L895.3 234.9L895.8 234.8L896.3 234.8L896.8 234.7L897.2 234.7L897.7 234.7L898.1 234.7L898.5 234.7L898.9 234.7L899.3 234.7L899.6 234.7L900.0 234.8L900.4 234.8L900.7 234.8L901.1 234.9L901.5 234.9L901.9 234.9Z" fill="#fff"/><path d="M913.5 231.6C905.7 228.7 896.8 223.8 891.5 219.3C894.4 223.8 897.3 228.2 897.8 232.1C896.8 236.0 893.9 240.4 891.5 243.8C897.8 239.4 905.7 235.0 913.5 231.6Z" fill="#fff"/>
<path d="M373.0 500.7L373.4 500.6L373.8 500.6L374.2 500.6L374.6 500.6L375.0 500.5L375.3 500.5L375.7 500.5L376.1 500.5L376.5 500.4L376.9 500.5L377.3 500.5L377.8 500.5L378.3 500.5L378.8 500.5L379.2 500.6L379.7 500.6L380.2 500.7L380.7 500.7L381.2 500.8L381.6 500.9L382.0 501.0L382.4 501.1L382.9 501.2L383.3 501.4L383.8 501.6L384.4 501.8L385.0 502.0L385.6 502.2L386.3 502.3L387.0 502.4L387.6 502.4L388.3 502.4L388.9 502.4L389.6 502.4L390.3 502.3L391.0 502.2L391.7 502.1L392.5 501.9L393.2 501.6L394.0 501.3L394.8 500.8L395.5 500.3L396.2 499.7L396.9 499.1L397.6 498.4L398.2 497.8L398.8 497.3L399.4 496.8L399.9 496.5L400.4 496.2L401.0 496.0L401.5 495.8L402.1 495.6L402.6 495.4L403.1 495.4L403.6 495.3L404.1 495.3L404.6 495.4L405.1 495.5L405.6 495.6L406.0 495.8L406.6 496.2L407.2 496.7L407.9 497.4L408.6 498.1L409.3 498.8L410.1 499.5L410.8 500.2L411.6 500.8L412.4 501.3L413.2 501.7L413.9 502.0L414.6 502.2L415.3 502.4L416.0 502.5L416.7 502.6L417.4 502.6L418.2 502.5L418.9 502.4L419.6 502.2L420.4 502.0L421.2 501.6L421.9 501.2L422.6 500.8L423.3 500.3L424.0 499.8L424.7 499.4L425.3 498.9L425.9 498.5L426.5 498.2L427.1 497.8L427.8 497.4L428.5 497.1L429.1 496.7L429.7 496.3L430.3 496.0L430.9 495.8L431.5 495.5L432.0 495.4L432.5 495.3L432.9 495.2L433.4 495.2L433.8 495.2L434.3 495.3L434.8 495.4L435.3 495.6L435.9 495.7L436.5 495.9L437.1 496.1L437.7 496.3L438.3 496.4L439.0 496.6L439.7 496.9L440.4 497.1L441.2 497.4L441.9 497.7L442.7 498.0L443.4 498.2L444.2 498.5L444.9 498.7L445.6 498.8L446.3 498.9L446.9 499.0L447.5 499.1L448.2 499.1L448.8 499.2L449.4 499.2L450.0 499.2L450.6 499.2L451.2 499.2L451.2 499.0L450.7 498.7L450.1 498.5L449.5 498.3L448.9 498.1L448.4 498.0L447.8 497.8L447.2 497.6L446.7 497.4L446.1 497.2L445.5 496.9L444.9 496.6L444.3 496.3L443.6 495.9L442.9 495.6L442.2 495.2L441.5 494.7L440.8 494.4L440.1 494.0L439.4 493.6L438.7 493.3L438.1 493.1L437.4 492.9L436.8 492.7L436.2 492.5L435.5 492.3L434.9 492.2L434.2 492.1L433.5 492.0L432.7 492.0L431.9 492.1L431.2 492.3L430.4 492.5L429.7 492.8L428.9 493.2L428.2 493.5L427.5 493.9L426.9 494.3L426.2 494.7L425.6 495.1L424.9 495.4L424.2 495.8L423.5 496.3L422.8 496.8L422.2 497.2L421.5 497.7L420.9 498.1L420.3 498.5L419.7 498.8L419.3 499.0L418.8 499.2L418.3 499.3L417.8 499.3L417.3 499.4L416.9 499.4L416.4 499.3L416.0 499.2L415.5 499.1L415.0 499.0L414.5 498.7L414.0 498.5L413.5 498.2L412.9 497.7L412.3 497.2L411.6 496.5L410.9 495.8L410.1 495.0L409.4 494.3L408.6 493.6L407.7 493.1L406.8 492.6L406.0 492.3L405.1 492.1L404.3 492.0L403.5 492.0L402.7 492.1L401.9 492.2L401.2 492.4L400.5 492.6L399.7 492.9L399.0 493.2L398.2 493.6L397.4 494.1L396.7 494.7L395.9 495.3L395.3 495.9L394.6 496.5L394.0 497.1L393.4 497.5L392.9 497.9L392.4 498.1L392.0 498.3L391.4 498.5L390.9 498.6L390.4 498.6L389.9 498.7L389.4 498.7L388.9 498.7L388.4 498.7L387.9 498.6L387.4 498.6L387.0 498.5L386.6 498.4L386.3 498.3L385.9 498.1L385.4 497.9L385.0 497.7L384.5 497.4L384.0 497.2L383.4 496.9L382.8 496.7L382.2 496.5L381.7 496.4L381.1 496.2L380.6 496.1L380.0 495.9L379.5 495.8L379.0 495.7L378.5 495.6L378.0 495.5L377.5 495.3L377.1 495.2L376.6 495.1L376.1 495.1L375.7 495.0L375.3 494.9L374.9 494.8L374.5 494.8L374.2 494.7L373.8 494.6L373.4 494.5Z" fill="#fff"/><path d="M361.2 497.3C369.2 494.3 378.2 489.3 383.7 484.8C380.7 489.3 377.7 493.8 377.2 497.8C378.2 501.8 381.2 506.3 383.7 509.8C377.2 505.3 369.2 500.8 361.2 497.3Z" fill="#fff"/>
<path d="M712.3 497.7L712.6 497.7L713.0 497.7L713.4 497.7L713.8 497.6L714.1 497.6L714.5 497.6L714.8 497.6L715.1 497.5L715.5 497.5L715.9 497.5L716.3 497.5L716.7 497.6L717.2 497.6L717.6 497.6L718.1 497.6L718.5 497.7L719.0 497.7L719.4 497.8L719.9 497.9L720.3 497.9L720.7 498.0L721.0 498.1L721.4 498.3L721.9 498.4L722.4 498.6L722.9 498.8L723.4 499.0L724.0 499.2L724.7 499.3L725.3 499.4L725.9 499.4L726.5 499.4L727.1 499.4L727.7 499.4L728.3 499.3L729.0 499.2L729.7 499.1L730.4 498.9L731.1 498.6L731.8 498.3L732.5 497.9L733.2 497.4L733.9 496.8L734.5 496.2L735.1 495.7L735.7 495.1L736.3 494.6L736.8 494.2L737.3 493.8L737.8 493.6L738.3 493.4L738.8 493.2L739.3 493.0L739.8 492.9L740.3 492.8L740.8 492.7L741.2 492.7L741.7 492.8L742.1 492.9L742.6 493.0L743.0 493.2L743.5 493.6L744.1 494.1L744.7 494.7L745.4 495.3L746.0 496.0L746.7 496.6L747.4 497.3L748.2 497.9L748.9 498.3L749.7 498.7L750.3 498.9L751.0 499.1L751.6 499.3L752.3 499.4L752.9 499.5L753.6 499.5L754.3 499.4L754.9 499.3L755.6 499.2L756.4 499.0L757.1 498.6L757.8 498.2L758.4 497.8L759.1 497.4L759.7 497.0L760.3 496.5L760.9 496.1L761.5 495.7L762.0 495.4L762.6 495.1L763.2 494.7L763.9 494.4L764.5 494.0L765.0 493.7L765.6 493.4L766.1 493.2L766.6 493.0L767.1 492.8L767.6 492.7L768.0 492.7L768.4 492.7L768.9 492.7L769.3 492.8L769.8 492.8L770.2 493.0L770.7 493.1L771.3 493.3L771.9 493.5L772.5 493.6L773.0 493.8L773.6 494.0L774.3 494.2L775.0 494.5L775.7 494.7L776.4 495.0L777.1 495.2L777.8 495.5L778.5 495.7L779.1 495.9L779.8 496.0L780.4 496.1L781.0 496.2L781.6 496.3L782.2 496.3L782.7 496.3L783.3 496.4L783.8 496.4L784.4 496.4L785.0 496.4L785.0 496.2L784.5 495.9L784.0 495.7L783.4 495.6L782.9 495.4L782.4 495.2L781.8 495.1L781.3 494.9L780.8 494.7L780.2 494.5L779.7 494.3L779.1 494.0L778.5 493.7L777.9 493.3L777.3 493.0L776.7 492.6L776.0 492.2L775.4 491.9L774.7 491.5L774.0 491.2L773.4 490.9L772.8 490.7L772.2 490.5L771.6 490.3L771.0 490.1L770.4 490.0L769.8 489.8L769.2 489.7L768.5 489.7L767.8 489.7L767.1 489.8L766.4 489.9L765.7 490.2L765.0 490.4L764.3 490.8L763.6 491.1L763.0 491.5L762.4 491.8L761.8 492.2L761.2 492.5L760.6 492.8L759.9 493.2L759.2 493.7L758.6 494.1L758.0 494.5L757.4 495.0L756.8 495.3L756.3 495.7L755.8 496.0L755.3 496.2L754.9 496.3L754.4 496.4L753.9 496.5L753.5 496.5L753.1 496.5L752.7 496.5L752.2 496.4L751.8 496.3L751.3 496.1L750.9 495.9L750.4 495.7L749.9 495.4L749.4 495.0L748.8 494.5L748.2 493.8L747.5 493.2L746.8 492.5L746.1 491.8L745.4 491.2L744.6 490.6L743.7 490.2L742.9 490.0L742.2 489.8L741.4 489.7L740.6 489.7L739.9 489.8L739.2 489.9L738.5 490.0L737.8 490.3L737.1 490.5L736.5 490.8L735.7 491.2L735.0 491.7L734.3 492.2L733.6 492.8L733.0 493.3L732.4 493.9L731.8 494.4L731.3 494.8L730.8 495.1L730.3 495.4L729.9 495.5L729.4 495.7L729.0 495.8L728.5 495.9L728.0 495.9L727.5 495.9L727.1 495.9L726.6 495.9L726.1 495.8L725.7 495.8L725.3 495.7L725.0 495.6L724.6 495.5L724.2 495.3L723.8 495.2L723.4 494.9L723.0 494.7L722.5 494.5L721.9 494.2L721.4 494.1L720.8 493.9L720.3 493.7L719.8 493.6L719.3 493.5L718.8 493.3L718.3 493.2L717.8 493.1L717.4 493.0L716.9 492.9L716.5 492.8L716.0 492.7L715.6 492.6L715.2 492.5L714.8 492.4L714.4 492.4L714.0 492.3L713.7 492.2L713.3 492.2L713.0 492.1L712.7 492.0Z" fill="#fff"/><path d="M701.3 494.6C708.7 491.8 717.1 487.2 722.2 483.0C719.4 487.2 716.6 491.3 716.2 495.1C717.1 498.8 719.9 503.0 722.2 506.2C716.2 502.0 708.7 497.9 701.3 494.6Z" fill="#fff"/>
<!-- parts_top -->
<path d="M42 250.7C46 200 70 135 106 100C125 82 150 73.5 172 73.5C195 73.5 218 83 236 103C262 130 290 200 300 250.7Z" fill="#eeeeee"/>
<path d="M176 58L132.6 122M192 58L147.3 124M208 58L162.0 126M224 58L187.3 112M240 58L211.3 100M256 58L232.7 92M271 58L239.7 104M285 58L251.0 108" stroke="#c4c8c8" stroke-width="1.6" stroke-dasharray="0.1 3.6" stroke-linecap="round" fill="none"/>
<path d="M331 78L308.7 112M347 78L318.2 122M363 78L326.3 134M379 78L334.5 146M395 78L347.8 150M411 78L363.8 150M427 78L379.8 150" stroke="#c3c9c9" stroke-width="1.4" stroke-dasharray="8 5.5" fill="none"/>
<clipPath id="cpw"><path d="M30 260V127C50 130 70 131 90 128C105 125 112 120.5 122 120.5C135 120.5 140 128 152 128C165 128 170 121 182 121C194 121 200 127.5 211 127.5C225 127.5 235 120 258 123.5L320 123V260Z"/></clipPath>
<path d="M42 250.7C46 200 70 135 106 100C125 82 150 73.5 172 73.5C195 73.5 218 83 236 103C262 130 290 200 300 250.7Z" fill="#288a69" clip-path="url(#cpw)"/>
<path d="M230 250.7L258.3 123.4C272 113 288 104 304 104C318 104 328 107 337 111.6C347 118 354 125 360.7 133C368 142 373 148 378 156.8C383 166 387 174 390.9 182.7C395 193 397.5 201 399.5 210.7C402 224 404 237 405 250.7Z" fill="#288a69"/>
<path d="M129 122L124.5 129M143.5 121L141 125.5M158 124L156.5 127" stroke="#d9efe4" stroke-width="2" stroke-dasharray="0.1 3.4" stroke-linecap="round" fill="none"/>
<path d="M311 106L302 121M327.5 111L321.5 121" stroke="#cfe6da" stroke-width="1.6" fill="none"/>
<path d="M171 250.7C177 202 214 128 258 128C302 128 339 202 344.5 250.7Z" fill="#aed5a8"/>
<path d="M176 55.8C171 55.8 170.5 50 172 46C175 37 184 32 193 34C198 23 212 17.5 226 17.7C240 18 250 24 256 32C266 28 278 32 283 39C292 37.5 301 44 301 51C301 54 299.5 55.8 297 55.8Z" fill="#c9d0d1"/>
<path d="M329 76C324.5 76 323.5 71 324.5 67C327 57 337 51 348 52.5C354 44 365 39 377 39C390 39 401 45 406 53C417 50 430 54 435 62C438.5 67 439 76 434 76Z" fill="#c9d0d1"/>
<rect x="52.3" y="24" width="107.5" height="36" rx="3.5" fill="#fff" stroke="#4666b8" stroke-width="1.7"/>
<circle cx="157.5" cy="62.6" r="9.3" fill="#fff" stroke="#4666b8" stroke-width="1.7"/>
<rect x="84.6" y="235.4" width="4.3" height="7.6" fill="#3bb5c5"/><path d="M86.8 180.0L105.0 204.6H68.6ZM86.8 194.9L108.9 220.5H64.7ZM86.8 209.8L112.8 236.4H60.8Z" fill="#3ab08a"/>
<rect x="110.9" y="188.0" width="5.2" height="15.0" fill="#a82a2a"/><path d="M113.5 163.0L121.6 178.8H105.4ZM113.5 172.5L124.0 189.0H103.0Z" fill="#1f7356"/>
<rect x="143.0" y="196.0" width="10" height="24.0" fill="#a82a2a"/><path d="M148.0 153.7L165.4 180.0H130.6ZM148.0 169.5L170.5 197.0H125.5Z" fill="#1f7356"/>
<rect x="177.8" y="173.6" width="4.3" height="14.4" fill="#7a1c1c"/><path d="M180.0 147.6L188.5 164.0H171.5ZM180.0 157.5L191.0 174.6H169.0Z" fill="#3ab08a"/>
<circle cx="261.5" cy="176" r="28" fill="#2e9be0"/>
<rect x="256" y="131" width="10" height="9.7" fill="#2fb5c0"/><rect x="241.7" y="140.7" width="10" height="9.7" fill="#2fb5c0"/><rect x="271.3" y="140.7" width="10" height="9.7" fill="#2fb5c0"/><rect x="256" y="152.5" width="10" height="9.7" fill="#2eb3a6" opacity="0.85"/><rect x="242" y="163.3" width="10" height="9.7" fill="#2eb3a6" opacity="0.85"/><rect x="271" y="163.3" width="10" height="9.7" fill="#2eb3a6" opacity="0.85"/><rect x="256" y="174" width="10" height="9.7" fill="#2eb3a6" opacity="0.85"/><rect x="242" y="184.8" width="10" height="9.7" fill="#2eb3a6" opacity="0.85"/><rect x="271" y="184.8" width="10" height="9.7" fill="#2eb3a6" opacity="0.85"/>
<path d="M259.4 200V238.7H440V222.6H267V200Z" fill="#2e9be0"/>
<path d="M360.7 166.5C366 172 364 178 358 185C353 191 357 197 361 202C366 209 360 215 357.5 222" stroke="#2e9be0" stroke-width="7.5" stroke-linecap="round" fill="none"/>
<g><defs><linearGradient id="wsg" x1="0" x2="1"><stop offset="0" stop-color="#dededc"/><stop offset="0.35" stop-color="#f6f6f5"/><stop offset="0.7" stop-color="#ebebe9"/><stop offset="1" stop-color="#d2d2d0"/></linearGradient></defs><path d="M588 150.5v1.8M595 151v2M602 150.5v1.8" stroke="#8a8a88" stroke-width="1.6"/><path d="M583.4 127H607.3V148.5C607.3 151 583.4 151 583.4 148.5Z" fill="url(#wsg)"/><path d="M583.4 131.8Q595 134 607.3 131.8M583.4 136.2Q595 138.4 607.3 136.2M583.4 140.6Q595 142.8 607.3 140.6M583.4 145Q595 147.2 607.3 145" stroke="#c9c9c6" stroke-width="1.2" fill="none"/><path d="M575.5 117.5H614.5C613.5 122 608.5 123.5 607.3 128.5Q595 130.5 583.4 128.5C582.5 123.5 576.5 122 575.5 117.5Z" fill="url(#wsg)"/><path d="M573.7 116C573.7 111 616 111 616 116C616 121.5 573.7 121.5 573.7 116Z" fill="#efefed"/><path d="M573.7 116C573.7 121.5 616 121.5 616 116C616 119.5 573.7 119.5 573.7 116Z" fill="#d6d6d3"/><path d="M576.2 99V114.5H578.4V99ZM592.3 100V114H594.2V100ZM595.9 100V114H597.7V100ZM611.8 99V114.5H614V99Z" fill="#dadad8"/><ellipse cx="587.5" cy="111.6" rx="2.8" ry="1.5" fill="#cfcfcc"/><ellipse cx="603.5" cy="111.6" rx="2.8" ry="1.5" fill="#cfcfcc"/><path d="M573 96C573 90.5 617 90.5 617 96C617 102 573 102 573 96Z" fill="#f0f0ee"/><path d="M573 96C573 102 617 102 617 96C617 99.8 573 99.8 573 96Z" fill="#d9d9d6"/><circle cx="609.6" cy="90.3" r="2.9" fill="#f1f1ef" stroke="#dcdcda" stroke-width="0.6"/><path d="M585 93.5C585 84.5 589 79.7 595 79.7C601 79.7 604.5 85 604.5 93.5Q595 95.5 585 93.5Z" fill="#4c5851"/><path d="M586.3 91.5C586.8 85.5 589.8 81.6 594 81" stroke="#e3e7e3" stroke-width="1.7" fill="none"/><circle cx="596.3" cy="87.3" r="3.1" fill="#3f7f50"/><circle cx="599.5" cy="84" r="1.2" fill="#cfd6cf"/></g>
<path d="M872 106.3C868 106.3 868 100 872 97C874 90 882 84 890 84C897 78 910 78 917 86C927 84 937 91 939 99C941.5 102 941 106.3 937 106.3Z" fill="#7ecbf1"/>
<path d="M798 129C793 129 792.5 123 795 119C797 110 806 102 818 101.5C826 100 836 103 842 109C852 107 862 114 865 122C867 125 867 129 863 129Z" fill="#b4dff6"/>
<path d="M934 130.6C929.5 130.6 929.5 125 933 122C935 113 944 105 956 103.5C967 102 976 107 980 113C990 112 999 118 1001 125C1003 128 1002 130.6 999 130.6Z" fill="#c0e3f6"/>
<path d="M934 130.6C930 130.6 930 126 933 124.5C936 120 942 119 946 122C950 121 955 124 956 128C957 130 956 130.6 954 130.6Z" fill="url(#cgw)"/>
<path d="M1003 126C1001 126 1002 121 1006 119C1012 112 1024 109.5 1032 113C1040 112 1048 116 1051 120C1056 120 1060 123 1059.5 126Z" fill="#f1f1f1"/>
<path d="M861.8 79.0L860.5 72.7M869.2 79.1L870.5 72.7M876.0 81.9L879.7 76.6M881.2 87.2L886.7 83.6M884.1 94.1L890.4 92.8M884.0 101.5L890.4 102.8M881.2 108.3L886.5 112.0M875.9 113.5L879.5 119.0M869.0 116.4L870.3 122.7M861.6 116.3L860.3 122.7M854.8 113.5L851.1 118.8M849.6 108.2L844.1 111.8M846.7 101.3L840.4 102.6M846.8 93.9L840.4 92.6M849.6 87.1L844.3 83.4M854.9 81.9L851.3 76.4" stroke="#f9cd55" stroke-width="2.7" stroke-linecap="round"/>
<circle cx="865.4" cy="97.7" r="14.3" fill="#f8c14c"/>
<defs><linearGradient id="cgw" x1="0" y1="0" x2="0" y2="1"><stop offset="0" stop-color="#ffffff"/><stop offset="1" stop-color="#cde8f8"/></linearGradient></defs>
<path d="M826 129C821 129 821 124.5 825 122.5C828 117 836 114 842 116C848 113 856 115 859 120C864 120 867 124 866.5 127C866.5 128.5 865.5 129 864 129Z" fill="url(#cgw)"/>
<path d="M776 202L800 186L822 172L838 168L853 165L869 162.8L880 164.5L893 168L905 171L922 178L940 190L950 207H776Z" fill="#b9b9d8"/>
<path d="M853 165L869 162.8L880 164.5L893 168L884 172L872 171L862 175L856 170Z" fill="#dcdcec"/>
<path d="M762.7 207.5C775 204 790 198 805 194.5C830 191 860 190 890 189.5C915 189 940 185 962 183C972 185 985 198 994.7 207.5Z" fill="#7ba53d"/>
<path d="M790 203C820 198 860 196 900 197C930 197.5 960 199 985 204L994.7 207.5H775Z" fill="#8bb548" opacity="0.7"/>
<path d="M826 193L860 207H845L822 195ZM852 195L880 207H868L846 196ZM897 198L918 207H908L893 199ZM909 201L930 207H918L905 202ZM928 189L955 207H945L922 190ZM946 189L975 207H965L940 190Z" fill="#5f8a30" opacity="0.55"/>
<path d="M804 196C804 191 810 188.5 814 191C817 188 824 189 826 192C830 191 834 194 833 197.5C832 201 806 201 804 196Z" fill="#2f6a36"/>
<path d="M936 196C936 191 941 189 945 191C948 187.5 956 188 958 192C962 192 963 196 961 198C958 201 938 201 936 196Z" fill="#2f6a36"/>
<rect x="822.3" y="189.0" width="2.4" height="5.0" fill="#6b3b22"/><path d="M823.5 157.8L830.9 171.9H816.1ZM823.5 166.3L832.4 180.9H814.6ZM823.5 174.8L834.0 190.0H813.0Z" fill="#3c7a3f"/>
<rect x="848.8" y="192.0" width="2.4" height="5.0" fill="#6b3b22"/><path d="M850.0 157.8L857.4 173.2H842.6ZM850.0 167.1L858.9 183.1H841.1ZM850.0 176.4L860.5 193.0H839.5Z" fill="#3c7a3f"/>
<rect x="837.5" y="194.0" width="2.4" height="5.0" fill="#6b3b22"/><path d="M838.7 171.7L843.6 181.9H833.8ZM838.7 177.8L844.7 188.4H832.8ZM838.7 184.0L845.7 195.0H831.7Z" fill="#3c7a3f"/>
<rect x="894.6" y="194.0" width="2.4" height="5.0" fill="#6b3b22"/><path d="M895.8 169.0L900.9 180.4H890.7ZM895.8 175.9L902.0 187.7H889.6ZM895.8 182.7L903.0 195.0H888.5Z" fill="#3c7a3f"/>
<rect x="906.5" y="198.0" width="2.4" height="5.0" fill="#6b3b22"/><path d="M907.7 173.0L913.7 184.4H901.8ZM907.7 179.9L914.9 191.7H900.5ZM907.7 186.7L916.2 199.0H899.2Z" fill="#3c7a3f"/>
<rect x="924.8" y="185.5" width="2.4" height="5.0" fill="#6b3b22"/><path d="M926.0 155.0L932.3 168.8H919.7ZM926.0 163.3L933.6 177.6H918.4ZM926.0 171.6L935.0 186.5H917.0Z" fill="#3c7a3f"/>
<rect x="942.8" y="186.0" width="2.4" height="5.0" fill="#6b3b22"/><path d="M944.0 151.4L951.4 166.9H936.6ZM944.0 160.8L952.9 177.0H935.1ZM944.0 170.2L954.5 187.0H933.5Z" fill="#3c7a3f"/>
<rect x="935.8" y="185.0" width="2.4" height="5.0" fill="#6b3b22"/><path d="M937.0 165.0L941.2 174.2H932.8ZM937.0 170.5L942.1 180.1H931.9ZM937.0 176.1L943.0 186.0H931.0Z" fill="#3c7a3f"/>
<path d="M815 208H832L823.5 226ZM842 208H858L850 228ZM918 208H934L926 224ZM936 208H952L944 228Z" fill="#2a7dbd" opacity="0.6"/>
<!-- parts_mid -->
<path d="M295 262.2H598Q606.8 262.2 606.8 271V459Q606.8 468.3 598 468.3H178" stroke="#bcbcbc" stroke-width="2" stroke-dasharray="7 5.8" fill="none"/>
<path d="M169.4 327V460" stroke="#bcbcbc" stroke-width="2" stroke-dasharray="7 5.8" fill="none"/>
<path d="M601.8 229.6L601.1 230.5L600.5 231.4L599.8 232.3L599.2 233.2L598.5 234.0L597.9 234.9L597.2 235.7L596.6 236.5L596.0 237.2L595.4 237.8L594.8 238.4L594.1 239.0L593.4 239.5L592.7 240.1L592.0 240.6L591.3 241.2L590.6 241.7L589.8 242.3L589.0 242.8L588.3 243.4L587.6 243.9L586.9 244.4L586.2 244.9L585.5 245.4L584.9 245.9L584.2 246.4L583.5 246.9L582.8 247.4L582.1 247.9L581.4 248.4L587.6 255.6L588.2 255.0L588.8 254.5L589.4 253.9L590.0 253.3L590.6 252.7L591.2 252.1L591.8 251.5L592.4 250.9L593.1 250.2L593.7 249.6L594.3 249.0L595.0 248.3L595.6 247.7L596.3 247.0L597.0 246.3L597.7 245.6L598.5 244.8L599.2 244.0L599.9 243.1L600.6 242.2L601.3 241.2L601.9 240.3L602.5 239.3L603.1 238.3L603.6 237.3L604.1 236.3L604.7 235.3L605.2 234.3L605.7 233.4L606.2 232.4Z" fill="#5ba8e2"/>
<path d="M588.2 243.1L587.6 243.6L586.9 244.0L586.3 244.5L585.6 245.0L584.9 245.5L584.1 246.1L583.4 246.7L582.6 247.4L581.8 248.1L581.0 248.9L580.2 249.7L579.5 250.6L578.9 251.5L578.2 252.4L577.6 253.3L577.0 254.1L576.5 254.9L575.9 255.7L575.4 256.5L574.9 257.2L574.3 258.0L573.8 258.8L573.3 259.6L572.8 260.3L572.4 261.0L572.0 261.6L571.5 262.1L571.1 262.7L570.6 263.2L570.1 263.8L569.4 264.4L568.6 265.1L567.8 265.8L566.9 266.5L565.9 267.3L564.9 268.1L563.9 268.8L562.8 269.6L561.8 270.4L560.8 271.1L559.8 271.8L558.8 272.5L557.7 273.2L556.6 273.9L555.4 274.6L554.3 275.3L553.1 276.1L551.8 277.0L550.6 277.8L549.5 278.8L548.4 279.7L547.5 280.5L546.5 281.4L545.6 282.4L544.7 283.3L543.8 284.3L543.0 285.2L542.1 286.2L541.3 287.3L540.6 288.4L539.8 289.6L539.1 290.8L538.4 292.0L537.8 293.2L537.3 294.3L536.8 295.5L536.3 296.6L535.8 297.6L535.4 298.6L534.9 299.6L534.3 300.6L533.8 301.7L533.3 302.8L532.8 303.8L532.4 304.8L531.9 305.7L531.5 306.6L531.0 307.5L530.5 308.3L530.0 309.1L529.4 310.0L528.7 310.9L528.0 311.8L527.3 312.7L526.5 313.6L525.7 314.5L525.0 315.3L524.3 316.0L523.7 316.5L523.2 317.0L523.0 317.2L522.9 317.2L522.9 317.3L522.9 317.3L522.8 317.3L522.6 317.3L522.2 317.4L521.5 317.4L520.7 317.5L520.0 317.7L522.0 326.3L522.2 326.2L522.4 326.2L522.6 326.2L523.1 326.2L523.8 326.2L524.7 326.1L525.7 325.8L526.7 325.4L527.8 324.9L528.8 324.2L529.7 323.5L530.6 322.8L531.5 321.9L532.5 321.0L533.4 320.1L534.4 319.1L535.4 318.0L536.3 317.0L537.2 315.9L538.0 314.9L538.8 313.8L539.5 312.7L540.2 311.6L540.8 310.5L541.4 309.4L542.0 308.4L542.5 307.4L543.1 306.4L543.6 305.4L544.1 304.4L544.7 303.3L545.3 302.2L545.9 301.1L546.4 300.0L546.9 299.0L547.4 298.0L547.9 297.1L548.4 296.2L548.9 295.4L549.4 294.6L550.0 293.8L550.6 293.1L551.3 292.3L551.9 291.6L552.6 290.8L553.3 290.1L554.1 289.4L554.9 288.7L555.7 287.9L556.5 287.2L557.3 286.6L558.2 285.9L559.2 285.3L560.2 284.6L561.3 283.9L562.5 283.1L563.7 282.4L564.9 281.6L566.1 280.7L567.2 279.9L568.3 279.0L569.4 278.2L570.5 277.3L571.5 276.5L572.6 275.6L573.7 274.7L574.7 273.8L575.7 272.9L576.6 271.9L577.5 271.0L578.4 270.0L579.2 269.1L579.8 268.2L580.4 267.3L581.0 266.4L581.4 265.6L581.9 264.9L582.3 264.2L582.7 263.5L583.1 262.8L583.6 261.9L584.2 261.1L584.7 260.2L585.2 259.3L585.7 258.5L586.2 257.7L586.7 257.0L587.1 256.3L587.6 255.7L588.0 255.1L588.4 254.6L588.9 254.1L589.4 253.6L589.9 253.2L590.5 252.7L591.1 252.2L591.7 251.6L592.4 251.1L593.1 250.5L593.8 249.9Z" fill="#3f97d9"/>
<path d="M581.0 262.0C579.0 264.7 577.5 267.4 575.0 270.0C572.5 272.6 569.0 275.2 566.0 277.5C563.0 279.8 560.0 281.5 557.0 283.5" stroke="#fff" stroke-width="1.4" fill="none"/>
<path d="M577.0 258.5C575.0 261.0 573.5 263.5 571.0 266.0C568.5 268.5 565.0 271.2 562.0 273.5C559.0 275.8 556.0 277.5 553.0 279.5" stroke="#d6ecfa" stroke-width="1.2" fill="none"/>
<path d="M549 289L557.5 281L555.5 286L559.5 287.5Z" fill="#fff"/>
<path d="M548.0 295.0C546.7 297.7 545.3 300.3 544.0 303.0C542.7 305.7 541.7 308.7 540.0 311.0C538.3 313.3 536.0 315.0 534.0 317.0" stroke="#7cc0ee" stroke-width="1.6" fill="none"/>
<path d="M470 342L415 393M416 406L494 442" stroke="#63b7e6" stroke-width="2.6" fill="none"/>
<ellipse cx="467.7" cy="314.6" rx="20.5" ry="13" fill="#1f8e9b"/><ellipse cx="467.7" cy="314.2" rx="15" ry="9" fill="#26a3ad"/><ellipse cx="470.0" cy="315.0" rx="9" ry="5.5" fill="#e9f3f3"/><path d="M465.4 309.0L469.0 307.2L484.0 314.2L480.2 316.4Z" fill="#f2a93c" /><path d="M465.4 309.0L480.2 316.4L480.2 319.0L465.4 311.6Z" fill="#c97f25" /><path d="M463.5 314.0L470.0 317.4L470.0 320.5L463.5 317.0Z" fill="#3f5f8a" /><path d="M466.0 337.0L489.3 351.3L535.5 327.4L512.5 314.0Z" fill="#ece2e5" /><path d="M470.9 323.7L487.9 333.5L487.9 346.8L470.9 337.0Z" fill="#dcd7d8" /><path d="M487.9 333.5L521.2 314.3L521.2 327.6L487.9 346.8Z" fill="#c9c3c5" /><path d="M504.2 304.5L521.2 314.3L487.9 333.5L470.9 323.7Z" fill="#f4f4f2" /><path d="M504.2 306.1L518.4 314.3L487.9 331.9L473.7 323.7Z" fill="#55b848" /><path d="M496.0 343.0V333.0C496.0 330.5 498.6 329.2 498.6 331.5V341.6Z" fill="#1f4f8f"/><path d="M500.3 340.6V330.6C500.3 328.1 502.9 326.8 502.9 329.1V339.2Z" fill="#1f4f8f"/><path d="M504.6 338.3V328.3C504.6 325.8 507.2 324.5 507.2 326.8V336.9Z" fill="#1f4f8f"/><path d="M508.9 335.9V325.9C508.9 323.4 511.5 322.1 511.5 324.4V334.6Z" fill="#1f4f8f"/>
<ellipse cx="492.1" cy="421.6" rx="20.5" ry="13" fill="#1f8e9b"/><ellipse cx="492.1" cy="421.2" rx="15" ry="9" fill="#26a3ad"/><ellipse cx="494.4" cy="422.0" rx="9" ry="5.5" fill="#e9f3f3"/><path d="M489.8 416.0L493.4 414.2L508.4 421.2L504.6 423.4Z" fill="#f2a93c" /><path d="M489.8 416.0L504.6 423.4L504.6 426.0L489.8 418.6Z" fill="#c97f25" /><path d="M487.9 421.0L494.4 424.4L494.4 427.5L487.9 424.0Z" fill="#3f5f8a" /><path d="M490.4 444.0L513.7 458.3L559.9 434.4L536.9 421.0Z" fill="#ece2e5" /><path d="M495.3 430.7L512.3 440.5L512.3 453.8L495.3 444.0Z" fill="#dcd7d8" /><path d="M512.3 440.5L545.6 421.3L545.6 434.6L512.3 453.8Z" fill="#c9c3c5" /><path d="M528.6 411.5L545.6 421.3L512.3 440.5L495.3 430.7Z" fill="#f4f4f2" /><path d="M528.6 413.1L542.8 421.3L512.3 438.9L498.1 430.7Z" fill="#55b848" /><path d="M520.4 450.0V440.0C520.4 437.5 523.0 436.2 523.0 438.5V448.6Z" fill="#1f4f8f"/><path d="M524.7 447.6V437.6C524.7 435.1 527.3 433.8 527.3 436.1V446.2Z" fill="#1f4f8f"/><path d="M529.0 445.3V435.3C529.0 432.8 531.6 431.5 531.6 433.8V443.9Z" fill="#1f4f8f"/><path d="M533.3 442.9V432.9C533.3 430.4 535.9 429.1 535.9 431.4V441.6Z" fill="#1f4f8f"/>
<clipPath id="cpe"><ellipse cx="332.3" cy="379.5" rx="64.8" ry="50.2"/></clipPath>
<path d="M105.1 435.0L333.1 571.8M105.1 435.0L324.7 252.6M123.4 419.8L351.4 556.6M124.1 446.4L343.7 264.0M141.7 404.6L369.7 541.4M143.1 457.8L362.7 275.4M160.0 389.4L388.0 526.2M162.1 469.2L381.7 286.8M178.3 374.2L406.3 511.0M181.1 480.6L400.7 298.2M196.6 359.0L424.6 495.8M200.1 492.0L419.7 309.6M214.9 343.8L442.9 480.6M219.1 503.4L438.7 321.0M233.2 328.6L461.2 465.4M238.1 514.8L457.7 332.4M251.5 313.4L479.5 450.2M257.1 526.2L476.7 343.8M269.8 298.2L497.8 435.0M276.1 537.6L495.7 355.2M288.1 283.0L516.1 419.8M295.1 549.0L514.7 366.6M306.4 267.8L534.4 404.6M314.1 560.4L533.7 378.0M324.7 252.6L552.7 389.4M333.1 571.8L552.7 389.4" stroke="#2a5fb0" stroke-width="3" fill="none" clip-path="url(#cpe)"/>
<ellipse cx="332.3" cy="379.5" rx="64.8" ry="50.2" fill="none" stroke="#2a5fb0" stroke-width="3"/>
<path d="M232.5 352.5L270 374.5" stroke="#2a5fb0" stroke-width="3.4"/>
<clipPath id="cps"><ellipse cx="273" cy="444" rx="29" ry="22"/></clipPath>
<path d="M170.4 446.8L284.0 522.0M170.4 446.8L274.4 357.2M176.9 441.2L290.5 516.4M177.5 451.5L281.5 361.9M183.4 435.6L297.0 510.8M184.6 456.2L288.6 366.6M189.9 430.0L303.5 505.2M191.7 460.9L295.7 371.3M196.4 424.4L310.0 499.6M198.8 465.6L302.8 376.0M202.9 418.8L316.5 494.0M205.9 470.3L309.9 380.7M209.4 413.2L323.0 488.4M213.0 475.0L317.0 385.4M215.9 407.6L329.5 482.8M220.1 479.7L324.1 390.1M222.4 402.0L336.0 477.2M227.2 484.4L331.2 394.8M228.9 396.4L342.5 471.6M234.3 489.1L338.3 399.5M235.4 390.8L349.0 466.0M241.4 493.8L345.4 404.2M241.9 385.2L355.5 460.4M248.5 498.5L352.5 408.9M248.4 379.6L362.0 454.8M255.6 503.2L359.6 413.6M254.9 374.0L368.5 449.2M262.7 507.9L366.7 418.3M261.4 368.4L375.0 443.6M269.8 512.6L373.8 423.0M267.9 362.8L381.5 438.0M276.9 517.3L380.9 427.7M274.4 357.2L388.0 432.4M284.0 522.0L388.0 432.4" stroke="#2a5fb0" stroke-width="1.7" fill="none" clip-path="url(#cps)"/>
<ellipse cx="273" cy="444" rx="29" ry="22" fill="none" stroke="#2a5fb0" stroke-width="2"/>
<path d="M354.8 324.2L384.4 340.3L375.1 348.4L346.7 330.9Z" fill="#ece4e6" /><path d="M364.8 336.5L374.9 342.0L374.9 345.8L364.8 340.3Z" fill="#d9d3d5" /><path d="M374.9 342.0L382.6 336.1L382.6 339.9L374.9 345.8Z" fill="#cac3c6" /><path d="M372.5 330.6L382.6 336.1L374.9 342.0L364.8 336.5Z" fill="#f7f5f5" /><path d="M366.8 338.7L369.7 340.3L369.7 342.3L366.8 340.7Z" fill="#6c6468" /><path d="M370.8 340.9L373.7 342.5L373.7 344.5L370.8 342.9Z" fill="#6c6468" /><path d="M347.9 324.0L366.1 333.9L366.1 339.4L347.9 329.5Z" fill="#ddd8da" /><path d="M366.1 333.9L373.0 328.6L373.0 334.1L366.1 339.4Z" fill="#cbc5c7" /><path d="M354.8 318.7L373.0 328.6L366.1 333.9L347.9 324.0Z" fill="#f6f6f4" /><path d="M354.9 319.9L371.1 328.7L366.0 332.7L349.7 323.9Z" fill="#4db648" /><path d="M350.1 326.8L353.3 328.5L353.3 330.3L350.1 328.6Z" fill="#b9b2b6" /><path d="M355.2 329.6L358.3 331.3L358.3 333.1L355.2 331.4Z" fill="#b9b2b6" /><path d="M360.3 332.3L363.4 334.1L363.4 335.9L360.3 334.1Z" fill="#b9b2b6" />
<path d="M280.7 342.0L299.3 352.8L299.3 367.2L280.7 356.5Z" fill="#3b424b" /><path d="M299.3 352.8L312.3 345.2L312.3 359.8L299.3 367.2Z" fill="#2c323a" /><path d="M293.7 334.5L312.3 345.2L299.3 352.8L280.7 342.0Z" fill="#4aa84a" /><g fill="#8fd48a"><circle cx="293.3" cy="338.2" r="1.2"/><circle cx="287.6" cy="341.5" r="1.2"/><circle cx="297.6" cy="340.8" r="1.2"/><circle cx="292.0" cy="344.0" r="1.2"/><circle cx="301.9" cy="343.2" r="1.2"/><circle cx="296.3" cy="346.5" r="1.2"/><circle cx="306.3" cy="345.8" r="1.2"/><circle cx="300.6" cy="349.0" r="1.2"/></g><path d="M284.4 345.6V357.6M288.2 347.8V359.8M291.9 349.9V361.9M295.6 352.1V364.1" stroke="#59626d" stroke-width="1"/>
<rect x="317.7" y="337.3" width="2.2" height="9.7" fill="#e9e5e5"/><rect x="316.8" y="329.3" width="4" height="9.5" rx="1.6" fill="#cf4f50"/><rect x="316.8" y="332.7" width="4" height="1.7" fill="#f2dede"/>
<path d="M311.2 349.0V363.0A8.6 4.4 0 0 0 328.4 363.0V349.0Z" fill="#e4e0e1"/><path d="M319.8 349.0V367.4A8.6 4.4 0 0 0 328.4 363.0V349.0Z" fill="#bdb6b9" opacity="0.5"/><ellipse cx="319.8" cy="349.0" rx="8.6" ry="4.4" fill="#f3f1f1"/><ellipse cx="319.8" cy="349" rx="3.9" ry="2.0" fill="#fff" stroke="#d5d0d2" stroke-width="0.8"/>
<path d="M302.9 364.5L308.1 367.5L308.1 372.0L302.9 369.0Z" fill="#dedadb" /><path d="M308.1 367.5L314.2 364.0L314.2 368.5L308.1 372.0Z" fill="#cbc5c7" /><path d="M309.0 361.0L314.2 364.0L308.1 367.5L302.9 364.5Z" fill="#f6f6f4" /><path d="M309.0 362.2L312.1 364.0L308.1 366.3L305.0 364.5Z" fill="#4fb548" />
<path d="M300.0 370.0L309.0 375.5L318.0 370.5L309.0 365.5Z" fill="#ebe5e6" />
<path d="M317.5 365.0L336.1 375.8L336.1 390.2L317.5 379.5Z" fill="#3b424b" /><path d="M336.1 375.8L349.1 368.2L349.1 382.8L336.1 390.2Z" fill="#2c323a" /><path d="M330.5 357.5L349.1 368.2L336.1 375.8L317.5 365.0Z" fill="#4aa84a" /><g fill="#8fd48a"><circle cx="330.1" cy="361.2" r="1.2"/><circle cx="324.4" cy="364.5" r="1.2"/><circle cx="334.4" cy="363.8" r="1.2"/><circle cx="328.8" cy="367.0" r="1.2"/><circle cx="338.7" cy="366.2" r="1.2"/><circle cx="333.1" cy="369.5" r="1.2"/><circle cx="343.1" cy="368.8" r="1.2"/><circle cx="337.4" cy="372.0" r="1.2"/></g><path d="M321.2 368.6V380.6M325.0 370.8V382.8M328.7 372.9V384.9M332.4 375.1V387.1" stroke="#59626d" stroke-width="1"/>
<rect x="355.2" y="358.6" width="2.2" height="9.4" fill="#e9e5e5"/><rect x="354.3" y="350.6" width="4" height="9.5" rx="1.6" fill="#cf4f50"/><rect x="354.3" y="354.0" width="4" height="1.7" fill="#f2dede"/>
<path d="M347.7 369.8V384.8A8.6 4.4 0 0 0 364.9 384.8V369.8Z" fill="#e4e0e1"/><path d="M356.3 369.8V389.2A8.6 4.4 0 0 0 364.9 384.8V369.8Z" fill="#bdb6b9" opacity="0.5"/><ellipse cx="356.3" cy="369.8" rx="8.6" ry="4.4" fill="#f3f1f1"/><ellipse cx="356.3" cy="369.8" rx="3.9" ry="2.0" fill="#fff" stroke="#d5d0d2" stroke-width="0.8"/>
<path d="M338.0 391.0L352.0 399.0L370.0 389.5L356.0 382.0Z" fill="#ebe5e6" />
<path d="M340.6 387.5L346.2 390.8L346.2 395.6L340.6 392.3Z" fill="#dedadb" /><path d="M346.2 390.8L353.1 386.8L353.1 391.6L346.2 395.6Z" fill="#cbc5c7" /><path d="M347.5 383.5L353.1 386.8L346.2 390.8L340.6 387.5Z" fill="#f6f6f4" /><path d="M347.5 384.7L351.1 386.8L346.2 389.6L342.7 387.5Z" fill="#4fb548" />
<path d="M356.8 389.0L362.9 392.5L362.9 396.5L356.8 393.0Z" fill="#dedadb" /><path d="M362.9 392.5L368.1 389.5L368.1 393.5L362.9 396.5Z" fill="#c9c3c5" /><path d="M362.0 386.0L368.1 389.5L362.9 392.5L356.8 389.0Z" fill="#f3f1f1" />
<path d="M275.3 400.4L304.9 416.5L295.6 424.6L267.2 407.1Z" fill="#ece4e6" /><path d="M285.3 412.7L295.4 418.2L295.4 422.0L285.3 416.5Z" fill="#d9d3d5" /><path d="M295.4 418.2L303.1 412.3L303.1 416.1L295.4 422.0Z" fill="#cac3c6" /><path d="M293.0 406.8L303.1 412.3L295.4 418.2L285.3 412.7Z" fill="#f7f5f5" /><path d="M287.3 414.9L290.2 416.5L290.2 418.5L287.3 416.9Z" fill="#6c6468" /><path d="M291.3 417.1L294.2 418.7L294.2 420.7L291.3 419.1Z" fill="#6c6468" /><path d="M268.4 400.2L286.6 410.1L286.6 415.6L268.4 405.7Z" fill="#ddd8da" /><path d="M286.6 410.1L293.5 404.8L293.5 410.3L286.6 415.6Z" fill="#cbc5c7" /><path d="M275.3 394.9L293.5 404.8L286.6 410.1L268.4 400.2Z" fill="#f6f6f4" /><path d="M275.4 396.1L291.6 404.9L286.5 408.9L270.2 400.1Z" fill="#4db648" /><path d="M270.6 403.0L273.8 404.7L273.8 406.5L270.6 404.8Z" fill="#b9b2b6" /><path d="M275.7 405.8L278.8 407.5L278.8 409.3L275.7 407.6Z" fill="#b9b2b6" /><path d="M280.8 408.5L283.9 410.3L283.9 412.1L280.8 410.3Z" fill="#b9b2b6" />
<path d="M399.0 402.0L414.5 414.8L432.0 404.5L417.0 392.5Z" fill="#efe7e9" />
<ellipse cx="423.5" cy="399.5" rx="8" ry="5.2" fill="#e9e1e3"/>
<path d="M371.5 381L383 377.5V386.5Z" fill="#d9d2d4"/>
<path d="M380.4 394.0V401.0A15.6 7.8 0 0 0 411.6 401.0V394.0Z" fill="#dad4d6"/><path d="M396.0 394.0V408.8A15.6 7.8 0 0 0 411.6 401.0V394.0Z" fill="#bdb6b9" opacity="0.5"/><ellipse cx="396.0" cy="394.0" rx="15.6" ry="7.8" fill="#e9e4e5"/>
<path d="M381.9 367.5V395.5A14.1 6.9 0 0 0 410.1 395.5V367.5Z" fill="#e7e3e4"/><path d="M396.0 367.5V402.4A14.1 6.9 0 0 0 410.1 395.5V367.5Z" fill="#c3bcbf" opacity="0.5"/><ellipse cx="396.0" cy="367.5" rx="14.1" ry="6.9" fill="#f2efef"/>
<ellipse cx="396" cy="367.5" rx="11.6" ry="5.6" fill="none" stroke="#d8d2d4" stroke-width="1"/>
<ellipse cx="395.5" cy="366.6" rx="4" ry="2.2" fill="#fff" stroke="#cfc8cb" stroke-width="0.8"/>
<path d="M402.2 402.8L409.5 407.0L409.5 412.5L402.2 408.2Z" fill="#e0dadb" /><path d="M409.5 407.0L420.4 400.8L420.4 406.2L409.5 412.5Z" fill="#cbc4c6" /><path d="M413.0 396.5L420.4 400.8L409.5 407.0L402.2 402.8Z" fill="#f6f3f3" />
<path d="M404.2 405.8L410.5 409.4L410.5 412.0L404.2 408.4Z" fill="#7a7276" />
<path d="M191.7 336.0L216.0 348.0L216.0 368.0L191.7 354.5Z" fill="#a8673a" /><path d="M216.0 348.0L233.7 335.0L233.7 352.4L216.0 368.0Z" fill="#ead9b0" /><path d="M204.0 343.0L216.0 349.0L216.0 368.0L204.0 361.5Z" fill="#6b3417" /><path d="M191.7 348.0L203.0 353.5L203.0 361.0L191.7 354.8Z" fill="#e9e2d2" /><path d="M190.0 343.5L204.0 350.0L204.0 353.5L190.0 346.8Z" fill="#8e9696" /><path d="M209.0 352.0L216.0 355.5L216.0 361.0L209.0 357.5Z" fill="#c98a4a" /><path d="M220 349.5V355M228 343.5V349M220.5 358V363M229.5 351V356" stroke="#8f8f7a" stroke-width="1.6"/><path d="M187.4 330.8L210.5 315.2L237.4 328.1L217.5 344.3Z" fill="#2f9e46" /><path d="M196.5 327.6L211.0 319.0L228.8 327.6L217.0 337.3Z" fill="#62bd5b" /><path d="M187.4 330.8L217.5 344.3L217.5 346.3L187.4 332.8Z" fill="#23833a" /><path d="M217.5 344.3L237.4 328.1L237.4 330.0L217.5 346.3Z" fill="#2a9140" />
<path d="M95.6 361.0L119.5 367.8V427.4Q119.5 428.4 117.5 427.9L97.1 422.7Q95.6 422.3 95.6 420.8Z" fill="#77797e"/><path d="M119.5 367.8L134.2 360.3V421.6Q134.2 423.1 132.7 423.9L119.5 428.4Z" fill="#5e6065"/><path d="M96.6 360.3L111.0 353.2Q112.6 352.7 114.9 353.0L133.2 359.5Q134.7 360.6 133.2 361.8L120.5 367.8Q119.5 368.6 118.0 367.8L96.6 362.2Q95.1 361.2 96.6 360.3Z" fill="#4a4b50"/><path d="M106.4 361.6L114.9 357.6L123.4 360.3L115.7 364.4Z" fill="#2e2f33"/><path d="M101.0 373.1l7.7 2.3" stroke="#a9abaf" stroke-width="1"/>
<defs><radialGradient id="sph" cx="0.4" cy="0.35" r="0.75"><stop offset="0" stop-color="#ffffff"/><stop offset="0.6" stop-color="#ececec"/><stop offset="1" stop-color="#c9c9c9"/></radialGradient></defs>
<circle cx="149.8" cy="410.1" r="15" fill="url(#sph)"/>
<path d="M149.6 396.5L151.2 400V418.5Q149.7 420 148 418.5V400Z" fill="#3c3c3c"/><rect x="148.3" y="404" width="2.8" height="8" fill="#8a8a8a"/>
<path d="M713 367Q713 362.5 717 362L744 360L759.5 364.5V421L743 425.5L716 422Q713 421.5 713 418Z" fill="#e9e9e9"/><path d="M743 366.5L759.5 364.5V421L743 425.5Z" fill="#cfcfcf"/><path d="M717 362L732 359.7L759.5 364.5L743 366.8Z" fill="#f4f4f4"/><path d="M744.5 371.5L756.6 369.5V419.5L744.5 422.5Z" fill="#17181a"/><rect x="728" y="351.4" width="6" height="12" rx="1" fill="#1c1c1e"/><rect x="729" y="362" width="4" height="5" fill="#2a2a2c"/><circle cx="727" cy="378.5" r="3.6" fill="#f8f8f8" stroke="#d6d6d6" stroke-width="0.8"/><rect x="724.3" y="367" width="2.6" height="4" fill="#666"/><path d="M720 413.5h14" stroke="#bdbdbd" stroke-width="1"/>
<defs><linearGradient id="tt" x1="0" y1="0" x2="1" y2="1"><stop offset="0" stop-color="#fafafa"/><stop offset="1" stop-color="#ececec"/></linearGradient></defs><rect x="1126" y="419.5" width="47" height="44.5" rx="2.5" fill="#e3e3e3"/><rect x="1126" y="419.5" width="45.5" height="43" rx="2.5" fill="url(#tt)" stroke="#e2e2e2" stroke-width="0.8"/><path d="M1138 463.5v5M1142 463.5v5M1153 463.5v4.5M1158.5 463.5v4.5" stroke="#d2d2d2" stroke-width="2"/><circle cx="1163.5" cy="450" r="0.9" fill="#c9c9c9"/>
<rect x="1001" y="324" width="3.6" height="10.5" fill="#f08a3c"/>
<path d="M1003.0 275.0L1010.4 297.3H995.6ZM1003.0 288.5L1011.9 311.6H994.1ZM1003.0 301.9L1013.5 326.0H992.5Z" fill="#a9d2a3"/>
<path d="M1031.0 297.7L1037.7 309.2H1024.3ZM1031.0 304.6L1039.1 316.6H1022.9ZM1031.0 311.6L1040.5 324.0H1021.5Z" fill="#3bb089"/>
<rect x="933" y="330" width="4" height="14" fill="#2fb5b5"/>
<circle cx="936.5" cy="316" r="19.1" fill="#2d8b61"/><circle cx="951.0" cy="320.5" r="10.3" fill="#2d8b61"/><circle cx="943.6" cy="329.4" r="10.3" fill="#2d8b61"/><circle cx="932.0" cy="330.5" r="10.3" fill="#2d8b61"/><circle cx="923.1" cy="323.1" r="10.3" fill="#2d8b61"/><circle cx="922.0" cy="311.5" r="10.3" fill="#2d8b61"/><circle cx="929.4" cy="302.6" r="10.3" fill="#2d8b61"/><circle cx="941.0" cy="301.5" r="10.3" fill="#2d8b61"/><circle cx="949.9" cy="308.9" r="10.3" fill="#2d8b61"/>
<rect x="978.3" y="349" width="5" height="10" fill="#2fb5b5"/>
<path d="M980.8 304.4L992.2 324.3H969.4ZM980.8 316.4L994.6 337.2H967.0ZM980.8 328.5L997.0 350.0H964.5Z" fill="#3bb089"/>
<rect x="1018" y="352" width="3.6" height="11" fill="#f08a3c"/>
<circle cx="1020" cy="338" r="14.8" fill="#1f6e4e"/><circle cx="1031.3" cy="341.5" r="8.0" fill="#1f6e4e"/><circle cx="1025.5" cy="348.4" r="8.0" fill="#1f6e4e"/><circle cx="1016.5" cy="349.3" r="8.0" fill="#1f6e4e"/><circle cx="1009.6" cy="343.5" r="8.0" fill="#1f6e4e"/><circle cx="1008.7" cy="334.5" r="8.0" fill="#1f6e4e"/><circle cx="1014.5" cy="327.6" r="8.0" fill="#1f6e4e"/><circle cx="1023.5" cy="326.7" r="8.0" fill="#1f6e4e"/><circle cx="1030.4" cy="332.5" r="8.0" fill="#1f6e4e"/>
<rect x="1046.2" y="383" width="4.4" height="12" fill="#f08a3c"/>
<path d="M1048.5 319.5L1059.3 347.9H1037.7ZM1048.5 336.7L1061.7 366.2H1035.3ZM1048.5 353.8L1064.0 384.5H1033.0Z" fill="#1f6e4e"/>
<rect x="840" y="336" width="7" height="2.2" fill="#555"/><rect x="845" y="336" width="2.2" height="10" fill="#555"/><rect x="853.6" y="333" width="4" height="14" fill="#7a4a34"/><rect x="854.6" y="329" width="2" height="5" fill="#a0705a"/><path d="M872 324.5H901Q905 324.5 905 329V357H866Z" fill="#2f9683"/><path d="M877.5 331H897.5Q900.5 331 900.5 334V347H871.5Z" fill="#a9b5c0"/><path d="M879 331L874 347H871.5L877.5 331Z" fill="#dfe6ea"/><path d="M831 346.3H876V367.6H852Q850 362 838 362H827.3V350Q827.3 346.3 831 346.3Z" fill="#3fa894"/><path d="M838 351v12M842 351v12M846 351v12M850 351v12M854 351v12" stroke="#2b7f70" stroke-width="1.7"/><circle cx="831.7" cy="377.8" r="12.2" fill="#6b4a3e"/><circle cx="831.7" cy="377.8" r="7" fill="#9a7568"/><circle cx="831.7" cy="377.8" r="2.6" fill="#6b4a3e"/><circle cx="883" cy="373.4" r="16.3" fill="#6b4a3e"/><circle cx="883" cy="373.4" r="9.5" fill="#9a7568"/><circle cx="883" cy="373.4" r="3.5" fill="#6b4a3e"/><path d="M866 357Q883 349 901 357L905 360V354L866 354Z" fill="#3fa894"/>
<path d="M888 383C892 380 900 380 905 384C900 392 893 398 890 408C887 418 880 424 866 428C852 432 842 436 838 446C834 458 838 470 831 480C826 490 810 498 786 499L785 487C800 487 812 484 818 476C823 466 820 452 824 440C828 430 838 424 852 420C866 416 874 410 876 400C878 392 882 387 888 383Z" fill="#4b9dd8"/><path d="M893 386C888 394 884 402 882 410C879 420 868 425 856 428C846 431 838 436 836 446" stroke="#cfe7f7" stroke-width="1.6" fill="none"/><path d="M899 388C894 396 890 402 888 412C885 422 872 428 860 431C850 434 843 440 841 448" stroke="#8cc5ee" stroke-width="1.8" fill="none"/><path d="M836 446L831 452L838 460Z" fill="#2f8dd2"/>
<rect x="906" y="380" width="3" height="9" fill="#7d8a94"/><rect x="913.5" y="380" width="3" height="9" fill="#7d8a94"/><rect x="941" y="380" width="3" height="9" fill="#7d8a94"/><rect x="905.6" y="386.5" width="3.8" height="3.5" fill="#3a4a58"/><rect x="913.1" y="386.5" width="3.8" height="3.5" fill="#3a4a58"/><rect x="940.6" y="386.5" width="3.8" height="3.5" fill="#3a4a58"/><rect x="893" y="349" width="52" height="33" rx="12" fill="#f1f1f1"/><circle cx="897.0" cy="350.5" r="3.4" fill="#f1f1f1"/><circle cx="902.6" cy="350.5" r="3.4" fill="#f1f1f1"/><circle cx="908.2" cy="350.5" r="3.4" fill="#f1f1f1"/><circle cx="913.8" cy="350.5" r="3.4" fill="#f1f1f1"/><circle cx="919.4" cy="350.5" r="3.4" fill="#f1f1f1"/><circle cx="925.0" cy="350.5" r="3.4" fill="#f1f1f1"/><circle cx="930.6" cy="350.5" r="3.4" fill="#f1f1f1"/><circle cx="936.2" cy="350.5" r="3.4" fill="#f1f1f1"/><circle cx="941.8" cy="350.5" r="3.4" fill="#f1f1f1"/><circle cx="894.5" cy="354.0" r="3.2" fill="#f1f1f1"/><circle cx="894.5" cy="359.8" r="3.2" fill="#f1f1f1"/><circle cx="894.5" cy="365.6" r="3.2" fill="#f1f1f1"/><circle cx="894.5" cy="371.4" r="3.2" fill="#f1f1f1"/><circle cx="894.5" cy="377.2" r="3.2" fill="#f1f1f1"/><path d="M932 337L938 335V345L932 344Z" fill="#2a5a52"/><path d="M933 336L942 338L941 342L934 341ZM959 338L968 336L967 340.5L960 342Z" fill="#a6b0b8"/><path d="M939.5 340Q939.5 326 950 326Q960.5 326 960.5 340V354Q958 363 950 363Q942 363 939.5 354Z" fill="#a6b0b8"/><path d="M950 326Q960.5 326 960.5 340V354Q958 363 950 363Z" fill="#95a0a8"/><path d="M936 337Q938 325 950 325Q962 325 964 337L960 341Q950 337 940 341Z" fill="#ececec"/><path d="M950 325Q962 325 964 337L960 341Q955 338.5 950 338Z" fill="#dcdcdc"/><circle cx="945.3" cy="348" r="2.6" fill="#fff"/><circle cx="954.8" cy="348" r="2.6" fill="#fff"/><circle cx="945.6" cy="348.4" r="1" fill="#6a747c"/><circle cx="955.1" cy="348.4" r="1" fill="#6a747c"/><path d="M946 357.5h8l-1.5 3h-5Z" fill="#4a555e"/>
<path d="M923 375.5L931 368.8L939 375.5V406.4H923Z" fill="#a98574"/><path d="M931 368.8L939 375.5V406.4H931Z" fill="#96705f"/><path d="M950 375.5L958 368.8L966 375.5V406.4H950Z" fill="#a98574"/><path d="M958 368.8L966 375.5V406.4H958Z" fill="#96705f"/><path d="M977 375.5L985 368.8L993 375.5V406.4H977Z" fill="#a98574"/><path d="M985 368.8L993 375.5V406.4H985Z" fill="#96705f"/><path d="M1004 375.5L1012 368.8L1020 375.5V406.4H1004Z" fill="#a98574"/><path d="M1012 368.8L1020 375.5V406.4H1012Z" fill="#96705f"/><rect x="916.7" y="378.5" width="112.5" height="6.5" fill="#6d4639"/><rect x="916.7" y="393.5" width="112.5" height="6.5" fill="#6d4639"/><circle cx="931" cy="381.8" r="1.7" fill="#f5cf2e"/><circle cx="931" cy="396.8" r="1.7" fill="#f5cf2e"/><circle cx="958" cy="381.8" r="1.7" fill="#f5cf2e"/><circle cx="958" cy="396.8" r="1.7" fill="#f5cf2e"/><circle cx="985" cy="381.8" r="1.7" fill="#f5cf2e"/><circle cx="985" cy="396.8" r="1.7" fill="#f5cf2e"/><circle cx="1012" cy="381.8" r="1.7" fill="#f5cf2e"/><circle cx="1012" cy="396.8" r="1.7" fill="#f5cf2e"/>
<!-- parts_low -->
<path d="M187.5 603.0C187.2 600.1 188.4 596.5 190.0 594.0C191.6 591.5 194.5 589.8 197.0 588.0C199.5 586.2 202.2 584.6 205.0 583.5C207.8 582.4 211.2 581.6 214.0 581.5C216.8 581.4 219.3 582.8 222.0 583.0C224.7 583.2 227.3 582.0 230.0 582.5C232.7 583.0 236.0 584.4 238.0 586.0C240.0 587.6 241.7 589.7 242.0 592.0C242.3 594.3 239.8 597.3 240.0 600.0C240.2 602.7 243.3 605.3 243.0 608.0C242.7 610.7 240.2 613.8 238.0 616.0C235.8 618.2 232.3 619.2 230.0 621.0C227.7 622.8 226.7 625.8 224.0 626.5C221.3 627.2 217.0 626.4 214.0 625.5C211.0 624.6 208.5 622.4 206.0 621.0C203.5 619.6 201.3 618.6 199.0 617.0C196.7 615.4 193.9 613.8 192.0 611.5C190.1 609.2 187.8 605.9 187.5 603.0Z" fill="#2f95dd"/>
<path d="M189.3 598.9L188.3 599.1L187.4 599.2L186.4 599.3L185.4 599.4L184.3 599.5L183.2 599.7L182.0 599.9L180.8 600.1L179.6 600.4L178.4 600.8L177.2 601.3L176.2 601.7L175.1 602.2L174.0 602.8L172.9 603.4L171.9 604.0L170.8 604.7L169.8 605.5L168.7 606.3L167.7 607.2L166.6 608.2L165.6 609.3L164.6 610.5L163.7 611.6L162.8 612.8L161.9 613.9L161.1 615.0L160.3 616.0L159.6 617.0L158.9 617.9L158.1 618.9L157.4 619.8L156.8 620.7L156.2 621.5L155.7 622.3L155.2 623.0L154.7 623.6L154.2 624.2L153.8 624.7L153.3 625.2L152.7 625.6L152.1 626.1L151.5 626.6L150.8 627.1L150.1 627.5L149.4 628.0L148.7 628.4L147.9 628.9L147.1 629.3L146.4 629.7L145.6 630.1L145.0 630.4L144.3 630.7L143.7 631.0L143.0 631.3L142.3 631.6L141.6 631.9L140.8 632.2L139.9 632.5L139.0 632.8L138.1 633.1L137.0 633.3L135.8 633.7L134.5 634.0L133.2 634.3L131.7 634.6L130.3 635.0L128.8 635.5L127.4 635.9L126.0 636.5L124.7 637.0L123.5 637.6L122.4 638.1L121.2 638.8L120.1 639.4L119.0 640.1L118.0 640.7L117.0 641.4L116.0 642.2L115.1 642.9L114.2 643.7L113.3 644.5L112.5 645.4L111.7 646.2L111.0 647.1L110.3 648.0L109.7 648.9L109.1 649.8L108.6 650.6L108.1 651.6L107.5 652.8L107.1 654.0L106.8 655.1L106.7 656.0L106.6 656.8L106.5 657.5L106.4 658.0L106.3 658.4L106.2 658.7L106.1 659.1L105.8 659.6L105.4 660.2L105.0 660.9L104.5 661.5L104.0 662.2L103.4 662.9L102.8 663.6L102.2 664.3L101.6 665.0L100.9 665.7L100.2 666.4L99.5 667.0L98.8 667.7L98.0 668.4L97.1 669.1L96.2 669.8L95.3 670.5L94.3 671.2L93.4 672.0L92.5 672.7L97.5 679.3L98.4 678.6L99.3 678.0L100.3 677.3L101.3 676.7L102.2 676.0L103.2 675.3L104.2 674.6L105.2 673.9L106.2 673.1L107.1 672.3L108.0 671.5L108.8 670.7L109.6 669.9L110.4 669.1L111.2 668.2L111.9 667.4L112.6 666.5L113.3 665.6L113.9 664.7L114.5 663.7L115.1 662.6L115.6 661.4L115.9 660.3L116.1 659.3L116.3 658.5L116.4 657.8L116.5 657.3L116.7 656.9L116.8 656.7L116.9 656.4L117.2 655.9L117.6 655.3L118.0 654.8L118.5 654.2L119.0 653.7L119.5 653.1L120.0 652.6L120.5 652.1L121.1 651.6L121.7 651.1L122.4 650.6L123.1 650.1L123.8 649.6L124.6 649.1L125.4 648.7L126.3 648.2L127.2 647.8L128.1 647.3L129.1 646.9L130.0 646.5L130.9 646.2L132.0 645.9L133.1 645.6L134.4 645.3L135.7 645.0L137.1 644.6L138.4 644.3L139.8 644.0L141.1 643.6L142.4 643.2L143.5 642.9L144.5 642.5L145.4 642.2L146.4 641.8L147.3 641.4L148.1 641.1L149.0 640.7L149.9 640.2L150.8 639.8L151.6 639.3L152.5 638.8L153.4 638.3L154.3 637.7L155.2 637.2L156.1 636.5L157.1 635.9L158.0 635.2L158.9 634.5L159.8 633.7L160.7 632.8L161.6 631.9L162.4 631.0L163.1 630.1L163.7 629.2L164.3 628.3L164.9 627.4L165.4 626.6L166.0 625.8L166.5 624.9L167.1 624.1L167.9 623.1L168.6 622.0L169.4 620.9L170.1 619.8L170.9 618.7L171.6 617.6L172.3 616.6L173.0 615.7L173.7 614.9L174.3 614.2L175.0 613.5L175.7 612.9L176.4 612.3L177.1 611.8L177.8 611.3L178.6 610.8L179.3 610.3L180.1 609.9L180.9 609.5L181.6 609.2L182.3 608.9L183.1 608.6L183.8 608.4L184.7 608.2L185.6 608.0L186.5 607.8L187.5 607.7L188.6 607.5L189.7 607.3L190.7 607.1Z" fill="#4b9dd8"/>
<path d="M167.5 612C163 618 160 624 154.5 629.5M172 614C167.5 620.5 164 627 158 632" stroke="#fff" stroke-width="1.5" fill="none"/>
<path d="M150 634.5L158.5 630.5L156 634L159.5 637.5Z" fill="#fff"/>
<path d="M113.5 650C110.5 655 110 660 106.5 665.5M118 652C115 657 114 662.5 110.5 668" stroke="#fff" stroke-width="1.5" fill="none"/>
<path d="M97.5 675L106 664.5L106 669L111.5 670Z" fill="#fff"/>
<path d="M211.0 666.0C210.3 663.2 212.8 659.3 215.0 657.0C217.2 654.7 221.0 653.3 224.0 652.0C227.0 650.7 230.2 649.8 233.0 649.0C235.8 648.2 238.5 647.4 241.0 647.3C243.5 647.2 246.0 647.7 248.0 648.5C250.0 649.3 250.7 651.0 253.0 652.0C255.3 653.0 259.2 653.2 262.0 654.5C264.8 655.8 268.8 657.6 269.5 659.5C270.2 661.4 267.8 664.2 266.0 666.0C264.2 667.8 261.0 668.8 259.0 670.5C257.0 672.2 256.2 674.5 254.0 676.0C251.8 677.5 249.0 678.8 246.0 679.5C243.0 680.2 239.2 680.2 236.0 680.0C232.8 679.8 229.8 679.0 227.0 678.0C224.2 677.0 221.7 676.0 219.0 674.0C216.3 672.0 211.7 668.8 211.0 666.0Z" fill="#2f95dd"/>
<path d="M216.3 663.1L215.0 663.6L213.7 664.1L212.4 664.6L211.1 665.1L209.9 665.7L208.6 666.2L207.3 666.7L206.0 667.2L204.7 667.7L203.4 668.3L202.1 668.8L200.7 669.3L199.3 669.9L197.9 670.4L196.5 671.0L195.2 671.5L193.8 672.1L192.5 672.6L191.2 673.1L189.9 673.6L188.7 674.0L187.5 674.5L186.3 674.9L185.2 675.4L184.0 675.8L182.9 676.2L181.9 676.6L180.8 676.9L179.8 677.3L178.8 677.6L177.9 677.9L177.0 678.2L176.2 678.4L175.5 678.6L174.8 678.8L174.1 679.0L173.3 679.2L172.5 679.4L171.5 679.6L170.4 679.8L169.1 680.0L167.7 680.2L166.2 680.4L164.6 680.6L162.9 680.8L161.2 681.0L159.5 681.2L157.8 681.4L156.2 681.6L154.6 681.8L153.1 682.0L151.6 682.2L150.2 682.3L148.7 682.5L147.2 682.6L145.7 682.8L144.3 683.0L142.9 683.1L141.5 683.4L140.1 683.6L138.8 683.9L137.6 684.2L136.4 684.5L135.2 684.8L134.1 685.1L133.0 685.5L132.0 685.8L131.0 686.2L129.9 686.5L128.9 686.9L127.9 687.3L126.8 687.7L125.8 688.1L124.8 688.6L123.8 689.0L122.8 689.4L121.9 689.9L120.9 690.3L120.0 690.7L119.1 691.2L118.2 691.6L117.3 692.0L116.4 692.5L115.5 692.9L114.6 693.4L113.8 693.8L113.0 694.2L112.2 694.6L111.5 695.0L110.8 695.3L110.1 695.6L109.5 695.9L108.9 696.2L108.3 696.4L107.8 696.7L107.2 696.9L106.6 697.1L106.1 697.4L105.5 697.6L104.9 697.9L107.1 703.1L107.7 702.9L108.2 702.7L108.8 702.5L109.4 702.3L109.9 702.0L110.5 701.8L111.2 701.6L111.8 701.3L112.5 701.0L113.2 700.7L114.0 700.3L114.8 700.0L115.6 699.6L116.5 699.2L117.3 698.8L118.2 698.4L119.0 698.0L119.9 697.6L120.8 697.2L121.7 696.8L122.6 696.4L123.5 696.0L124.4 695.7L125.4 695.3L126.3 694.9L127.3 694.5L128.2 694.1L129.2 693.8L130.1 693.4L131.1 693.1L132.1 692.8L133.1 692.4L134.0 692.1L135.0 691.8L136.0 691.6L137.0 691.3L138.0 691.1L139.1 690.8L140.2 690.6L141.3 690.4L142.5 690.2L143.7 690.1L145.1 689.9L146.4 689.8L147.8 689.7L149.3 689.6L150.8 689.5L152.3 689.4L153.8 689.3L155.4 689.2L156.9 689.0L158.6 688.9L160.3 688.7L162.0 688.6L163.7 688.4L165.4 688.3L167.1 688.1L168.7 688.0L170.2 687.8L171.6 687.6L172.9 687.4L174.0 687.2L175.0 687.0L175.9 686.8L176.8 686.6L177.6 686.4L178.5 686.2L179.3 685.9L180.2 685.7L181.2 685.4L182.3 685.1L183.4 684.8L184.5 684.4L185.6 684.1L186.8 683.7L188.0 683.3L189.2 682.9L190.4 682.5L191.6 682.1L192.9 681.6L194.2 681.2L195.5 680.7L196.9 680.2L198.2 679.7L199.7 679.2L201.1 678.7L202.5 678.2L203.9 677.7L205.3 677.2L206.6 676.7L207.9 676.2L209.3 675.8L210.6 675.3L211.9 674.8L213.2 674.3L214.5 673.8L215.8 673.4L217.1 672.9L218.4 672.4L219.7 671.9Z" fill="#4b9dd8"/>
<path d="M97.5 701.5L110.5 692.5L109 698L113 706.5Z" fill="#4b9dd8"/>
<path d="M203 705H241" stroke="#5ec8dc" stroke-width="2"/><path d="M196.5 705L205 700.5V709.5Z" fill="#5ec8dc"/>
<path d="M262 611.5L290 628" stroke="#a9d6ee" stroke-width="2.2"/>
<ellipse cx="219.8" cy="602.8" rx="15.5" ry="10.5" fill="#f2f7f7"/><ellipse cx="219.8" cy="602.8" rx="13.3" ry="8.7" fill="#1f8e9b"/><ellipse cx="220.5" cy="603.0" rx="8.5" ry="5.3" fill="#2aa39a"/><path d="M216.5 599.5L219.0 598.0L231.0 603.5L228.6 605.2Z" fill="#f2a93c" /><path d="M216.5 599.5L228.6 605.2L228.6 607.0L216.5 601.4Z" fill="#c97f25" /><path d="M218.0 612.0L237.5 624.5L268.5 612.7L251.0 601.0Z" fill="#ece2e5" /><path d="M222.9 610.7L236.1 617.8L236.1 627.1L222.9 620.0Z" fill="#dcd7d8" /><path d="M236.1 617.8L260.4 603.6L260.4 612.9L236.1 627.1Z" fill="#c9c3c5" /><path d="M247.2 596.5L260.4 603.6L236.1 617.8L222.9 610.7Z" fill="#f4f4f2" /><path d="M247.2 597.8L258.1 603.7L236.1 616.5L225.2 610.7Z" fill="#4fb548" /><path d="M241.3 624.2V617.4C241.3 615.6 243.3 614.7 243.3 616.4V623.2Z" fill="#1f4f8f"/><path d="M244.4 622.6V615.8C244.4 614.0 246.4 613.1 246.4 614.8V621.6Z" fill="#1f4f8f"/><path d="M247.5 620.9V614.1C247.5 612.3 249.5 611.4 249.5 613.1V619.9Z" fill="#1f4f8f"/><path d="M250.6 619.2V612.5C250.6 610.6 252.6 609.8 252.6 611.5V618.2Z" fill="#1f4f8f"/>
<path d="M664.0 577.0C661.7 575.7 659.7 573.9 657.0 573.0C654.3 572.1 650.8 571.8 648.0 571.5C645.2 571.2 642.5 571.2 640.0 571.5C637.5 571.8 635.2 572.7 633.0 573.5C630.8 574.3 629.1 575.2 627.0 576.5C624.9 577.8 622.6 579.8 620.5 581.5C618.4 583.2 616.7 585.1 614.5 587.0C612.3 588.9 609.8 591.1 607.5 593.0C605.2 594.9 603.6 596.4 600.7 598.2C597.8 600.0 593.2 602.6 590.0 604.0C586.8 605.4 584.3 606.1 581.5 606.8C578.7 607.5 575.8 607.9 573.0 608.0C570.2 608.1 567.8 607.8 565.0 607.3C562.2 606.8 560.2 606.5 556.5 605.3C552.8 604.0 547.4 601.4 543.0 599.8C538.6 598.2 533.8 596.6 530.0 595.5C526.2 594.4 523.0 593.6 520.0 593.0C517.0 592.4 514.5 592.0 512.0 592.0C509.5 592.0 507.3 592.3 505.0 592.8C502.7 593.3 500.1 594.1 498.0 595.0C495.9 595.9 494.2 596.9 492.5 598.0C490.8 599.1 489.3 600.4 487.7 601.8C486.1 603.2 484.6 604.7 483.0 606.5C481.4 608.3 479.8 610.6 478.0 612.6C476.2 614.6 474.1 616.8 472.0 618.8C469.9 620.8 468.0 622.5 465.5 624.3C463.0 626.1 460.0 628.0 457.0 629.5C454.0 631.0 450.9 632.6 447.7 633.6C444.5 634.6 440.9 634.9 438.0 635.2C435.1 635.6 433.0 635.7 430.0 635.7C427.0 635.7 423.1 635.4 420.0 635.0C416.9 634.6 415.0 633.9 411.7 633.6C408.4 633.3 403.9 633.2 400.0 633.0" stroke="#848685" stroke-width="11.8" fill="none" stroke-linecap="round"/>
<path d="M680.5 669.0C678.3 670.3 676.1 671.6 674.0 673.0C671.9 674.4 670.0 675.9 668.0 677.2C666.0 678.5 664.3 679.6 662.0 680.8C659.7 682.0 656.7 683.5 654.0 684.5C651.3 685.5 648.4 686.3 645.6 687.0C642.8 687.7 639.8 688.2 637.0 688.5C634.2 688.8 631.8 689.0 629.0 689.0C626.2 689.0 622.8 688.8 620.0 688.5C617.2 688.2 614.7 687.6 612.5 687.0C610.3 686.4 608.8 685.7 607.0 684.8C605.2 683.9 603.3 682.8 601.5 681.5C599.7 680.2 597.9 678.6 596.0 677.0C594.1 675.4 592.3 673.6 590.3 672.0C588.3 670.4 586.0 668.7 584.0 667.3C582.0 665.9 580.0 664.6 578.2 663.5C576.4 662.4 574.7 661.3 573.0 660.5C571.3 659.7 570.2 659.2 568.0 658.5C565.8 657.8 562.7 656.8 560.0 656.5C557.3 656.2 555.3 656.2 552.0 656.5C548.7 656.8 544.0 657.6 540.0 658.5C536.0 659.4 531.8 660.7 528.0 662.0C524.2 663.3 520.6 665.3 517.0 666.5C513.4 667.7 509.5 668.5 506.3 669.2C503.1 669.9 500.8 670.3 498.0 670.7C495.2 671.1 492.5 671.4 489.7 671.5C486.9 671.6 483.8 671.6 481.0 671.6C478.2 671.6 475.7 671.4 473.0 671.2C470.3 671.0 467.7 670.7 465.0 670.2C462.3 669.7 459.4 669.3 456.6 668.4C453.8 667.5 450.8 666.2 448.0 664.8C445.2 663.4 442.9 662.0 440.0 660.2C437.1 658.5 434.4 656.1 430.7 654.3C427.0 652.5 422.2 650.9 418.0 649.3C413.8 647.7 409.1 646.1 405.3 644.8C401.5 643.5 398.4 642.6 395.0 641.5" stroke="#848685" stroke-width="12.2" fill="none" stroke-linecap="round"/>
<path d="M657.0 573.0C654.0 572.5 650.8 571.8 648.0 571.5C645.2 571.2 642.5 571.2 640.0 571.5C637.5 571.8 635.2 572.7 633.0 573.5C630.8 574.3 629.1 575.2 627.0 576.5C624.9 577.8 622.6 579.8 620.5 581.5C618.4 583.2 616.7 585.1 614.5 587.0C612.3 588.9 609.8 591.1 607.5 593.0C605.2 594.9 603.0 596.5 600.7 598.2" stroke="#fff" stroke-width="1.7" fill="none"/><path transform="translate(600.7 598.2) rotate(-37.4)" d="M-6.5 0L5 -6L2.8 0L5 6Z" fill="#fff"/>
<path d="M530.0 595.5C526.7 594.7 523.0 593.6 520.0 593.0C517.0 592.4 514.5 592.0 512.0 592.0C509.5 592.0 507.3 592.3 505.0 592.8C502.7 593.3 500.1 594.1 498.0 595.0C495.9 595.9 494.2 596.9 492.5 598.0C490.8 599.1 489.3 600.5 487.7 601.8" stroke="#fff" stroke-width="2.2" fill="none"/><path transform="translate(487.7 601.8) rotate(-38.4)" d="M-6.5 0L5 -6L2.8 0L5 6Z" fill="#fff"/>
<path d="M674.0 673.0C672.0 674.4 670.0 675.9 668.0 677.2C666.0 678.5 664.3 679.6 662.0 680.8C659.7 682.0 656.7 683.5 654.0 684.5C651.3 685.5 648.4 686.3 645.6 687.0C642.8 687.7 639.8 688.2 637.0 688.5C634.2 688.8 631.8 689.0 629.0 689.0C626.2 689.0 622.8 688.8 620.0 688.5C617.2 688.2 614.7 687.6 612.5 687.0C610.3 686.4 608.8 685.7 607.0 684.8C605.2 683.9 603.3 682.6 601.5 681.5" stroke="#fff" stroke-width="1.7" fill="none"/><path transform="translate(601.5 681.5) rotate(31.0)" d="M-6.5 0L5 -6L2.8 0L5 6Z" fill="#fff"/>
<path d="M517.0 666.5C513.4 667.4 509.5 668.5 506.3 669.2C503.1 669.9 500.8 670.3 498.0 670.7C495.2 671.1 492.5 671.4 489.7 671.5C486.9 671.6 483.8 671.6 481.0 671.6C478.2 671.6 475.7 671.4 473.0 671.2C470.3 671.0 467.7 670.7 465.0 670.2C462.3 669.7 459.4 669.3 456.6 668.4C453.8 667.5 450.9 666.0 448.0 664.8" stroke="#fff" stroke-width="1.7" fill="none"/><path transform="translate(448.0 664.8) rotate(22.7)" d="M-6.5 0L5 -6L2.8 0L5 6Z" fill="#fff"/>
<path d="M310 527.5H598Q606.3 527.5 606.3 536V709Q606.3 717.8 598 717.8H178" stroke="#bcbcbc" stroke-width="2" stroke-dasharray="7 5.8" fill="none"/>
<path d="M187 527.5H177Q169.6 528 169.6 536V712" stroke="#bcbcbc" stroke-width="2" stroke-dasharray="7 5.8" fill="none"/>
<clipPath id="cpp"><ellipse cx="340.3" cy="622.2" rx="69.7" ry="46.5"/></clipPath>
<ellipse cx="340.3" cy="622.2" rx="69.7" ry="46.5" fill="#fff"/>
<path d="M22.8 649.6L352.8 812.8M22.8 649.6L262.8 472.0M42.8 634.8L372.8 798.0M50.3 663.2L290.3 485.6M62.8 620.0L392.8 783.2M77.8 676.8L317.8 499.2M82.8 605.2L412.8 768.4M105.3 690.4L345.3 512.8M102.8 590.4L432.8 753.6M132.8 704.0L372.8 526.4M122.8 575.6L452.8 738.8M160.3 717.6L400.3 540.0M142.8 560.8L472.8 724.0M187.8 731.2L427.8 553.6M162.8 546.0L492.8 709.2M215.3 744.8L455.3 567.2M182.8 531.2L512.8 694.4M242.8 758.4L482.8 580.8M202.8 516.4L532.8 679.6M270.3 772.0L510.3 594.4M222.8 501.6L552.8 664.8M297.8 785.6L537.8 608.0M242.8 486.8L572.8 650.0M325.3 799.2L565.3 621.6M262.8 472.0L592.8 635.2M352.8 812.8L592.8 635.2" stroke="#6fbbe9" stroke-width="2.4" fill="none" clip-path="url(#cpp)"/>
<clipPath id="cpg"><path d="M300 675L330 628L372 598L415 585V680Z"/></clipPath>
<g clip-path="url(#cpg)"><path d="M22.8 649.6L352.8 812.8M22.8 649.6L262.8 472.0M42.8 634.8L372.8 798.0M50.3 663.2L290.3 485.6M62.8 620.0L392.8 783.2M77.8 676.8L317.8 499.2M82.8 605.2L412.8 768.4M105.3 690.4L345.3 512.8M102.8 590.4L432.8 753.6M132.8 704.0L372.8 526.4M122.8 575.6L452.8 738.8M160.3 717.6L400.3 540.0M142.8 560.8L472.8 724.0M187.8 731.2L427.8 553.6M162.8 546.0L492.8 709.2M215.3 744.8L455.3 567.2M182.8 531.2L512.8 694.4M242.8 758.4L482.8 580.8M202.8 516.4L532.8 679.6M270.3 772.0L510.3 594.4M222.8 501.6L552.8 664.8M297.8 785.6L537.8 608.0M242.8 486.8L572.8 650.0M325.3 799.2L565.3 621.6M262.8 472.0L592.8 635.2M352.8 812.8L592.8 635.2" stroke="#777b7f" stroke-width="1.9" fill="none" clip-path="url(#cpp)"/></g>
<g clip-path="url(#cpp)"><path d="M364 640L376 636L392 626.5L420 628V652L398 642L380 645L368 643Z" fill="#848685"/></g>
<ellipse cx="340.3" cy="622.2" rx="69.7" ry="46.5" fill="none" stroke="#70757a" stroke-width="2.2"/>
<path d="M387.5 589.6L405.8 599.6L400.1 604.6L382.5 593.8Z" fill="#ece4e6" /><path d="M393.7 597.2L400.0 600.6L400.0 603.0L393.7 599.6Z" fill="#d9d3d5" /><path d="M400.0 600.6L404.8 597.0L404.8 599.3L400.0 603.0Z" fill="#cac3c6" /><path d="M398.5 593.6L404.8 597.0L400.0 600.6L393.7 597.2Z" fill="#f7f5f5" /><path d="M394.9 598.6L396.7 599.6L396.7 600.8L394.9 599.8Z" fill="#6c6468" /><path d="M397.4 600.0L399.2 601.0L399.2 602.2L397.4 601.2Z" fill="#6c6468" /><path d="M383.2 589.5L394.5 595.6L394.5 599.0L383.2 592.9Z" fill="#ddd8da" /><path d="M394.5 595.6L398.8 592.3L398.8 595.7L394.5 599.0Z" fill="#cbc5c7" /><path d="M387.5 586.2L398.8 592.3L394.5 595.6L383.2 589.5Z" fill="#f6f6f4" /><path d="M387.6 586.9L397.6 592.4L394.4 594.9L384.4 589.4Z" fill="#4db648" /><path d="M384.6 591.2L386.5 592.3L386.5 593.4L384.6 592.3Z" fill="#b9b2b6" /><path d="M387.7 592.9L389.7 594.0L389.7 595.1L387.7 594.1Z" fill="#b9b2b6" /><path d="M390.9 594.7L392.9 595.7L392.9 596.8L390.9 595.8Z" fill="#b9b2b6" />
<path d="M267.9 585.0L290.2 597.4L290.2 614.4L267.9 602.0Z" fill="#3b424b" /><path d="M290.2 597.4L307.0 584.8L307.0 601.8L290.2 614.4Z" fill="#2b3139" /><path d="M284.7 572.4L307.0 584.8L290.2 597.4L267.9 585.0Z" fill="#45a545" /><g fill="#93d98e"><ellipse cx="283.8" cy="577.6" rx="1.8" ry="1.1"/><ellipse cx="277.0" cy="582.7" rx="1.8" ry="1.1"/><ellipse cx="288.9" cy="580.5" rx="1.8" ry="1.1"/><ellipse cx="282.1" cy="585.6" rx="1.8" ry="1.1"/><ellipse cx="293.9" cy="583.3" rx="1.8" ry="1.1"/><ellipse cx="287.1" cy="588.4" rx="1.8" ry="1.1"/><ellipse cx="299.0" cy="586.1" rx="1.8" ry="1.1"/><ellipse cx="292.2" cy="591.2" rx="1.8" ry="1.1"/></g><path d="M272.4 589.5V603.0M276.8 591.9V605.4M281.3 594.4V607.9M285.8 596.9V610.4" stroke="#59626d" stroke-width="1.1"/><circle cx="271.1" cy="591.0" r="1.7" fill="#8fa0ad"/>
<rect x="315.2" y="573.0" width="2.2" height="14.0" fill="#e9e5e5"/><rect x="314.3" y="565.0" width="4" height="9.5" rx="1.6" fill="#cf4f50"/><rect x="314.3" y="568.4" width="4" height="1.7" fill="#f2dede"/>
<path d="M305.8 588.8V601.8A11 5.5 0 0 0 327.8 601.8V588.8Z" fill="#e4e0e1"/><path d="M316.8 588.8V607.3A11 5.5 0 0 0 327.8 601.8V588.8Z" fill="#bdb6b9" opacity="0.5"/><ellipse cx="316.8" cy="588.8" rx="11" ry="5.5" fill="#f3f1f1"/><ellipse cx="316.8" cy="588.8" rx="5.0" ry="2.5" fill="#fff" stroke="#d5d0d2" stroke-width="0.8"/>
<path d="M294.0 612.0L307.0 620.0L320.0 613.0L307.0 606.0Z" fill="#ebe5e6" />
<path d="M297.7 608.5L304.2 612.2L304.2 617.5L297.7 613.7Z" fill="#dedadb" /><path d="M304.2 612.2L312.0 607.8L312.0 613.0L304.2 617.5Z" fill="#cbc5c7" /><path d="M305.5 604.0L312.0 607.8L304.2 612.2L297.7 608.5Z" fill="#f6f6f4" /><path d="M305.5 605.2L309.9 607.8L304.2 611.0L299.8 608.5Z" fill="#4fb548" />
<path d="M315.7 605.6L338.0 618.0L338.0 635.0L315.7 622.6Z" fill="#3b424b" /><path d="M338.0 618.0L354.8 605.4L354.8 622.4L338.0 635.0Z" fill="#2b3139" /><path d="M332.5 593.0L354.8 605.4L338.0 618.0L315.7 605.6Z" fill="#45a545" /><g fill="#93d98e"><ellipse cx="331.6" cy="598.2" rx="1.8" ry="1.1"/><ellipse cx="324.8" cy="603.3" rx="1.8" ry="1.1"/><ellipse cx="336.7" cy="601.1" rx="1.8" ry="1.1"/><ellipse cx="329.9" cy="606.2" rx="1.8" ry="1.1"/><ellipse cx="341.8" cy="603.9" rx="1.8" ry="1.1"/><ellipse cx="334.9" cy="609.0" rx="1.8" ry="1.1"/><ellipse cx="346.8" cy="606.7" rx="1.8" ry="1.1"/><ellipse cx="340.0" cy="611.8" rx="1.8" ry="1.1"/></g><path d="M320.2 610.1V623.6M324.6 612.5V626.0M329.1 615.0V628.5M333.6 617.5V631.0" stroke="#59626d" stroke-width="1.1"/><circle cx="318.9" cy="611.6" r="1.7" fill="#8fa0ad"/>
<rect x="364.4" y="592.7" width="2.2" height="13.3" fill="#e9e5e5"/><rect x="363.5" y="584.7" width="4" height="9.5" rx="1.6" fill="#cf4f50"/><rect x="363.5" y="588.1" width="4" height="1.7" fill="#f2dede"/>
<path d="M354.8 608.6V625.6A11.5 5.8 0 0 0 377.8 625.6V608.6Z" fill="#e4e0e1"/><path d="M366.3 608.6V631.4A11.5 5.8 0 0 0 377.8 625.6V608.6Z" fill="#bdb6b9" opacity="0.5"/><ellipse cx="366.3" cy="608.6" rx="11.5" ry="5.8" fill="#f3f1f1"/><ellipse cx="366.3" cy="608.6" rx="5.2" ry="2.6" fill="#fff" stroke="#d5d0d2" stroke-width="0.8"/>
<path d="M344.0 634.0L362.0 645.0L381.0 635.0L363.0 625.0Z" fill="#ebe5e6" />
<path d="M345.8 628.8L352.3 632.5L352.3 638.0L345.8 634.2Z" fill="#dedadb" /><path d="M352.3 632.5L360.5 627.8L360.5 633.2L352.3 638.0Z" fill="#cbc5c7" /><path d="M354.0 624.0L360.5 627.8L352.3 632.5L345.8 628.8Z" fill="#f6f6f4" /><path d="M354.0 625.2L358.4 627.8L352.3 631.3L347.9 628.8Z" fill="#4fb548" />
<path d="M364.9 633.5L371.9 637.5L371.9 642.5L364.9 638.5Z" fill="#e0dadb" /><path d="M371.9 637.5L377.9 634.0L377.9 639.0L371.9 642.5Z" fill="#cbc4c6" /><path d="M371.0 630.0L377.9 634.0L371.9 637.5L364.9 633.5Z" fill="#f5f2f2" />
<path d="M309.5 647.9L345.0 667.2L333.9 677.0L299.8 656.0Z" fill="#ece4e6" /><path d="M321.6 662.6L333.7 669.2L333.7 673.8L321.6 667.2Z" fill="#d9d3d5" /><path d="M333.7 669.2L342.9 662.1L342.9 666.7L333.7 673.8Z" fill="#cac3c6" /><path d="M330.8 655.5L342.9 662.1L333.7 669.2L321.6 662.6Z" fill="#f7f5f5" /><path d="M323.9 665.3L327.3 667.2L327.3 669.6L323.9 667.7Z" fill="#6c6468" /><path d="M328.7 668.0L332.2 669.8L332.2 672.2L328.7 670.4Z" fill="#6c6468" /><path d="M301.2 647.7L323.0 659.5L323.0 666.1L301.2 654.3Z" fill="#ddd8da" /><path d="M323.0 659.5L331.3 653.2L331.3 659.8L323.0 666.1Z" fill="#cbc5c7" /><path d="M309.5 641.3L331.3 653.2L323.0 659.5L301.2 647.7Z" fill="#f6f6f4" /><path d="M309.6 642.7L329.1 653.3L322.9 658.1L303.4 647.5Z" fill="#4db648" /><path d="M303.9 651.0L307.6 653.1L307.6 655.2L303.9 653.2Z" fill="#b9b2b6" /><path d="M310.0 654.3L313.8 656.4L313.8 658.6L310.0 656.5Z" fill="#b9b2b6" /><path d="M316.1 657.7L319.9 659.7L319.9 661.9L316.1 659.8Z" fill="#b9b2b6" />
<path d="M507.5 605.1L530.1 611.3V665.6Q530.1 666.6 528.1 666.1L509.0 661.4Q507.5 661.1 507.5 659.7Z" fill="#77797e"/><path d="M530.1 611.3L544.0 604.4V660.4Q544.0 661.8 542.5 662.5L530.1 666.6Z" fill="#5e6065"/><path d="M508.5 604.4L522.1 598.0Q523.6 597.5 525.8 597.8L543.0 603.7Q544.5 604.8 543.0 605.8L531.1 611.3Q530.1 612.0 528.6 611.3L508.5 606.1Q507.0 605.2 508.5 604.4Z" fill="#4a4b50"/><path d="M517.7 605.7L525.8 602.0L533.8 604.4L526.5 608.2Z" fill="#2e2f33"/><path d="M512.6 616.2l7.3 2.1" stroke="#a9abaf" stroke-width="1"/>
<circle cx="558.3" cy="650.5" r="12.3" fill="#fff" stroke="#e6e6e6" stroke-width="1"/>
<path d="M551.5 656.5Q550.5 653 553 652L556.5 645.5Q557.5 643.5 560 644L563.5 645Q565.5 646 565.5 648.5L566 655Q566 657 563.5 657.2L553.5 658Q551.8 658 551.5 656.5Z" fill="#1b1b1d"/>
<path d="M553.5 655h9" stroke="#f0f0f0" stroke-width="1.1"/>
<rect x="678.6" y="603.5" width="138.4" height="5.5" fill="#3f5a3c"/><path d="M676 568H790V604.4H680Q672 604.4 672 598.5Q672 592.6 680 592.6H702Q706 592.6 706 589.8Q706 587 702 587H676Q672 587 672 581V572Q672 568 676 568Z" fill="#2a8a9b"/><rect x="781.5" y="568" width="9" height="36.4" fill="#2d6a45"/><rect x="676" y="567.4" width="114.5" height="2.4" fill="#2d6a45"/><path d="M672 578Q672 586 680 587H672Z" fill="#1f6f80"/><path d="M696 577q3.5 -3.2 7.0 0t7.0 0M729 580q3.2 -3.2 6.5 0t6.5 0M742 579q3.2 -3.2 6.5 0t6.5 0M755 580q3.2 -3.2 6.5 0t6.5 0M745 590q3.5 -3.2 7.0 0t7.0 0M710 597q3.5 -3.2 7.0 0t7.0 0" stroke="#e8f6f8" stroke-width="1.3" fill="none"/><rect x="755" y="531.3" width="27" height="36.7" fill="#2d9fc8"/><rect x="782" y="531.3" width="8.3" height="36.7" fill="#1b6f9e"/><path d="M758 531.3Q760 527 765 528.5Q768 525.5 772 527.5Q776 525.5 779 528.5Q784 527.5 786 531.3Z" fill="#2c6b3f"/><rect x="758.5" y="536.0" width="3.8" height="7" rx="0.8" fill="#e9f6fb"/><rect x="766.1" y="536.0" width="3.8" height="7" rx="0.8" fill="#e9f6fb"/><rect x="773.7" y="536.0" width="3.8" height="7" rx="0.8" fill="#e9f6fb"/><rect x="784.0" y="536.0" width="3.4" height="7" rx="0.8" fill="#cfe8f3"/><rect x="758.5" y="547.5" width="3.8" height="7" rx="0.8" fill="#e9f6fb"/><rect x="766.1" y="547.5" width="3.8" height="7" rx="0.8" fill="#e9f6fb"/><rect x="773.7" y="547.5" width="3.8" height="7" rx="0.8" fill="#e9f6fb"/><rect x="784.0" y="547.5" width="3.4" height="7" rx="0.8" fill="#cfe8f3"/><rect x="764.5" y="561" width="5.5" height="7" fill="#123a52"/><rect x="790.3" y="550" width="21" height="54.4" fill="#e9e9e9"/><rect x="811.3" y="550" width="5" height="54.4" fill="#b3b3b3"/><rect x="789.5" y="548.5" width="27.5" height="2.5" fill="#4d5e4d"/><path d="M793 547.5L795 540H803L801 547.5ZM804 547.5L806 540H815L813 547.5Z" fill="#3b4f6a"/><path d="M797 547.5V550M809 547.5V550" stroke="#555" stroke-width="1"/><rect x="793" y="555.0" width="9" height="3.2" fill="#2f7fc4"/><rect x="803.5" y="555.0" width="4.5" height="3.2" fill="#2f7fc4" opacity="0.55"/><rect x="812.3" y="555.0" width="3" height="3.6" fill="#f3f3f3"/><rect x="793" y="563.3" width="9" height="3.2" fill="#2f7fc4"/><rect x="803.5" y="563.3" width="4.5" height="3.2" fill="#2f7fc4" opacity="0.55"/><rect x="812.3" y="563.3" width="3" height="3.6" fill="#f3f3f3"/><rect x="793" y="571.6" width="9" height="3.2" fill="#2f7fc4"/><rect x="803.5" y="571.6" width="4.5" height="3.2" fill="#2f7fc4" opacity="0.55"/><rect x="812.3" y="571.6" width="3" height="3.6" fill="#f3f3f3"/><rect x="793" y="579.9" width="9" height="3.2" fill="#2f7fc4"/><rect x="803.5" y="579.9" width="4.5" height="3.2" fill="#2f7fc4" opacity="0.55"/><rect x="812.3" y="579.9" width="3" height="3.6" fill="#f3f3f3"/><rect x="793" y="588.2" width="9" height="3.2" fill="#2f7fc4"/><rect x="803.5" y="588.2" width="4.5" height="3.2" fill="#2f7fc4" opacity="0.55"/><rect x="812.3" y="588.2" width="3" height="3.6" fill="#f3f3f3"/><rect x="796" y="596" width="7.5" height="8.4" fill="#2a6fb0"/>
<path d="M731 618.9H752Q754 619 755 619.8H770V622.6H766V627.1H754Q752 627 751 625.8H731Q729.6 625.8 729.6 622.4Q729.6 618.9 731 618.9Z" fill="#9c9c9c"/><path d="M778 625.8H799Q801 625.9 802 626.7H817V629.5H813V634.7H801Q799 634.6 798 633.2H778Q776.5 633.2 776.5 629.5Q776.5 625.8 778 625.8Z" fill="#9c9c9c"/><path d="M701 633.5L702.5 630.8H711L712.5 628.2H727" stroke="#ababab" stroke-width="2" fill="none"/><path d="M719.5 643L721 640.3H747L748.5 637.8H763" stroke="#ababab" stroke-width="2.2" fill="none"/><path d="M740.4 657H753V662H768.3V696H740.4Z" fill="#2ab5c8"/><path d="M754 661H767.7V696H758V666H754Z" fill="#1f9fb5"/><path d="M725.8 664.5H734.7V696H725.8Z" fill="#2ab5c8"/><path d="M708 680H727V696H708Z" fill="#1d3a5c"/><path d="M765.6 672Q765.6 669.6 769 669.6H791Q794.3 669.6 794.3 672V696H765.6Z" fill="#1f5fa0"/><path d="M770 669.6V667H790V669.6Z" fill="#184f88"/><path d="M765.6 676H794.3M765.6 682H794.3M765.6 688H794.3" stroke="#184f88" stroke-width="1.2"/><rect x="788" y="669.6" width="6.3" height="26.4" fill="#174a80" opacity="0.6"/><rect x="729" y="669.6" width="20" height="26.4" rx="2" fill="#c9a64f"/><rect x="740" y="669.6" width="9" height="26.4" fill="#b08c3a"/><path d="M729 675H749M729 689H749" stroke="#a07f33" stroke-width="1.2"/><path d="M715.5 645.7H723.2L724.6 696H714Z" fill="#8a6a2a"/><path d="M719.5 645.7H723.2L724.6 696H719.5Z" fill="#6f531f"/><rect x="714.5" y="645.7" width="9.5" height="3" fill="#5c4418"/><rect x="713.5" y="661" width="11.5" height="2.2" fill="#5c4418"/><path d="M696 636.4H705V660L708.5 672V696H692.5V672L696 660Z" fill="#9a9a9a"/><path d="M700.5 636.4H705V660L708.5 672V696H700.5Z" fill="#7d7d7d"/><rect x="696" y="636.4" width="9" height="15" fill="#4a4a4a"/><path d="M686 696V677H692.5M686 683H680.3V677" stroke="#c9922e" stroke-width="2.2" fill="none"/><path d="M678 696V690Q678 687 681 687H690" stroke="#1f5a8a" stroke-width="2.2" fill="none"/><path d="M749 683H757Q760 683 760 686V696M760 690H781Q784 690 784 693V696" stroke="#16323f" stroke-width="2.2" fill="none"/><path d="M708.5 680H712V696" stroke="#444" stroke-width="1.6" fill="none"/><rect x="670.6" y="695.5" width="126.4" height="7.5" rx="1" fill="#4a4a4a"/><rect x="670.6" y="695.5" width="126.4" height="2" fill="#666"/>
<circle cx="664.3" cy="577.2" r="7.8" fill="#fff" stroke="#2a4fb0" stroke-width="2.4"/>
<circle cx="680.3" cy="669" r="7.8" fill="#fff" stroke="#2a4fb0" stroke-width="2.4"/>
<!-- parts_text -->
<text x="58.3" y="51.6" font-size="23.8" fill="#5170ba" font-family="&quot;Liberation Sans&quot;,&quot;Noto Sans CJK SC&quot;,sans-serif">降雨监测</text>
<text x="190.1" y="227" font-size="12.2" font-weight="bold" fill="#3c4a3a" textLength="52.5" lengthAdjust="spacing" font-family="&quot;Liberation Sans&quot;,&quot;Noto Sans CJK SC&quot;,sans-serif">水库 湖沼</text>
<text x="548.8" y="175.9" font-size="16.3" font-weight="500" fill="#e8202a" font-family="&quot;Liberation Sans&quot;,&quot;Noto Sans CJK SC&quot;,sans-serif">多功能气象站</text>
<text x="597.8" y="195.7" font-size="17" font-weight="normal" fill="#e8202a" text-anchor="middle" textLength="87.5" lengthAdjust="spacingAndGlyphs" stroke="#e8202a" stroke-width="0.35">EN700-MW</text>
<text x="1093.8" y="74.4" font-size="37.7" font-weight="bold" fill="#c00d12" text-anchor="middle" textLength="139.2" lengthAdjust="spacingAndGlyphs" stroke="#c00d12" stroke-width="1.3" stroke-linejoin="miter">WITBEE</text>
<text x="1176.2" y="72.9" font-size="31.2" font-weight="bold" fill="#707070" font-family="&quot;Liberation Sans&quot;,&quot;Noto Sans CJK SC&quot;,sans-serif">万宾</text>
<text x="615.9" y="278" font-size="14.6" font-weight="bold" fill="#333" font-family="&quot;Liberation Sans&quot;,&quot;Noto Sans CJK SC&quot;,sans-serif">原水</text>
<text x="419.4" y="294.7" font-size="12.3" fill="#7a7a7a" font-family="&quot;Liberation Sans&quot;,&quot;Noto Sans CJK SC&quot;,sans-serif">净水厂</text>
<text x="500" y="294.7" font-size="11.5" fill="#7a7a7a" font-family="&quot;Liberation Sans&quot;,&quot;Noto Sans CJK SC&quot;,sans-serif">取水厂</text>
<text x="511.4" y="354.7" font-size="11.4" fill="#7a7a7a" font-family="&quot;Liberation Sans&quot;,&quot;Noto Sans CJK SC&quot;,sans-serif">配水</text>
<text x="527.2" y="406.6" font-size="12.1" fill="#7a7a7a" font-family="&quot;Liberation Sans&quot;,&quot;Noto Sans CJK SC&quot;,sans-serif">取水厂</text>
<text x="278.1" y="316.9" font-size="12.4" fill="#7a7a7a" font-family="&quot;Liberation Sans&quot;,&quot;Noto Sans CJK SC&quot;,sans-serif">配水区域</text>
<text x="348.5" y="316.7" font-size="12" fill="#7a7a7a" font-family="&quot;Liberation Sans&quot;,&quot;Noto Sans CJK SC&quot;,sans-serif">水厂</text>
<text x="192.1" y="383.9" font-size="12.6" fill="#7a7a7a" font-family="&quot;Liberation Sans&quot;,&quot;Noto Sans CJK SC&quot;,sans-serif">用户</text>
<text x="382.5" y="430.5" font-size="12.7" fill="#7a7a7a" font-family="&quot;Liberation Sans&quot;,&quot;Noto Sans CJK SC&quot;,sans-serif">配水池</text>
<text x="307.9" y="447.4" font-size="12.8" fill="#7a7a7a" font-family="&quot;Liberation Sans&quot;,&quot;Noto Sans CJK SC&quot;,sans-serif">管网</text>
<text x="545.1" y="364.2" font-size="16.6" font-weight="500" fill="#3f82d2" font-family="&quot;Liberation Sans&quot;,&quot;Noto Sans CJK SC&quot;,sans-serif">地下水</text>
<text x="545.1" y="385" font-size="16.6" font-weight="500" fill="#3f82d2" font-family="&quot;Liberation Sans&quot;,&quot;Noto Sans CJK SC&quot;,sans-serif">潜流水</text>
<text x="67.2" y="452.8" font-size="18" font-weight="500" fill="#e8202a" font-family="&quot;Liberation Sans&quot;,&quot;Noto Sans CJK SC&quot;,sans-serif">管网水质监测仪</text>
<text x="130.6" y="472.4" font-size="17" font-weight="normal" fill="#e8202a" text-anchor="middle" textLength="86.2" lengthAdjust="spacingAndGlyphs" stroke="#e8202a" stroke-width="0.35">EN400-WQ</text>
<text x="672.4" y="452.7" font-size="18" font-weight="500" fill="#e8202a" font-family="&quot;Liberation Sans&quot;,&quot;Noto Sans CJK SC&quot;,sans-serif">雷达水位监测仪</text>
<text x="736.2" y="472.4" font-size="17" font-weight="normal" fill="#e8202a" text-anchor="middle" textLength="67.3" lengthAdjust="spacingAndGlyphs" stroke="#e8202a" stroke-width="0.35">EN200-D</text>
<text x="1094.2" y="507" font-size="18" font-weight="500" fill="#e8202a" font-family="&quot;Liberation Sans&quot;,&quot;Noto Sans CJK SC&quot;,sans-serif">智能遥测终端</text>
<text x="1147.8" y="528.4" font-size="17" font-weight="normal" fill="#e8202a" text-anchor="middle" textLength="87.6" lengthAdjust="spacingAndGlyphs" stroke="#e8202a" stroke-width="0.35">EN401-EG</text>
<text x="466.8" y="699.3" font-size="18.1" font-weight="500" fill="#e8202a" font-family="&quot;Liberation Sans&quot;,&quot;Noto Sans CJK SC&quot;,sans-serif">雷达超声流量仪</text>
<text x="530" y="720.2" font-size="17" font-weight="normal" fill="#e8202a" text-anchor="middle" textLength="100.4" lengthAdjust="spacingAndGlyphs" stroke="#e8202a" stroke-width="0.35">EN400-RDU</text>
<text x="64.3" y="603.6" font-size="25" font-weight="bold" fill="#111" font-family="&quot;Liberation Sans&quot;,&quot;Noto Sans CJK SC&quot;,sans-serif">河</text>
<text x="65.8" y="631" font-size="23.9" font-weight="bold" fill="#111" font-family="&quot;Liberation Sans&quot;,&quot;Noto Sans CJK SC&quot;,sans-serif">川</text>
<text x="55.6" y="759.6" font-size="22.3" font-weight="bold" fill="#111" font-family="&quot;Liberation Sans&quot;,&quot;Noto Sans CJK SC&quot;,sans-serif">海</text>
<text x="195.5" y="577.4" font-size="11.4" fill="#7a7a7a" font-family="&quot;Liberation Sans&quot;,&quot;Noto Sans CJK SC&quot;,sans-serif">污水处理厂</text>
<text x="195.5" y="694.9" font-size="11.8" fill="#7a7a7a" font-family="&quot;Liberation Sans&quot;,&quot;Noto Sans CJK SC&quot;,sans-serif">流出雨水</text>
<text x="293.9" y="703.4" font-size="17.5" font-weight="500" fill="#3f82d2" font-family="&quot;Liberation Sans&quot;,&quot;Noto Sans CJK SC&quot;,sans-serif">泵站自动化</text>
<text x="611.5" y="558.1" font-size="17.5" font-weight="500" fill="#5a5a5a" font-family="&quot;Liberation Sans&quot;,&quot;Noto Sans CJK SC&quot;,sans-serif">生活污水</text>
<text x="611.3" y="656.2" font-size="17.5" font-weight="500" fill="#5a5a5a" font-family="&quot;Liberation Sans&quot;,&quot;Noto Sans CJK SC&quot;,sans-serif">工业废水</text>
<text x="883.6" y="669.2" font-size="32.6" font-weight="500" fill="#ea1620" font-family="&quot;Liberation Sans&quot;,&quot;Noto Sans CJK SC&quot;,sans-serif">水环境综合治理监测系统</text>
<text x="1028.6" y="691.2" font-size="14.4" font-weight="normal" fill="#ec565b" text-anchor="middle" textLength="425" lengthAdjust="spacingAndGlyphs" >Water Environment Comprehensive Treatment Monitoring System</text>
</svg>
</body></html>
